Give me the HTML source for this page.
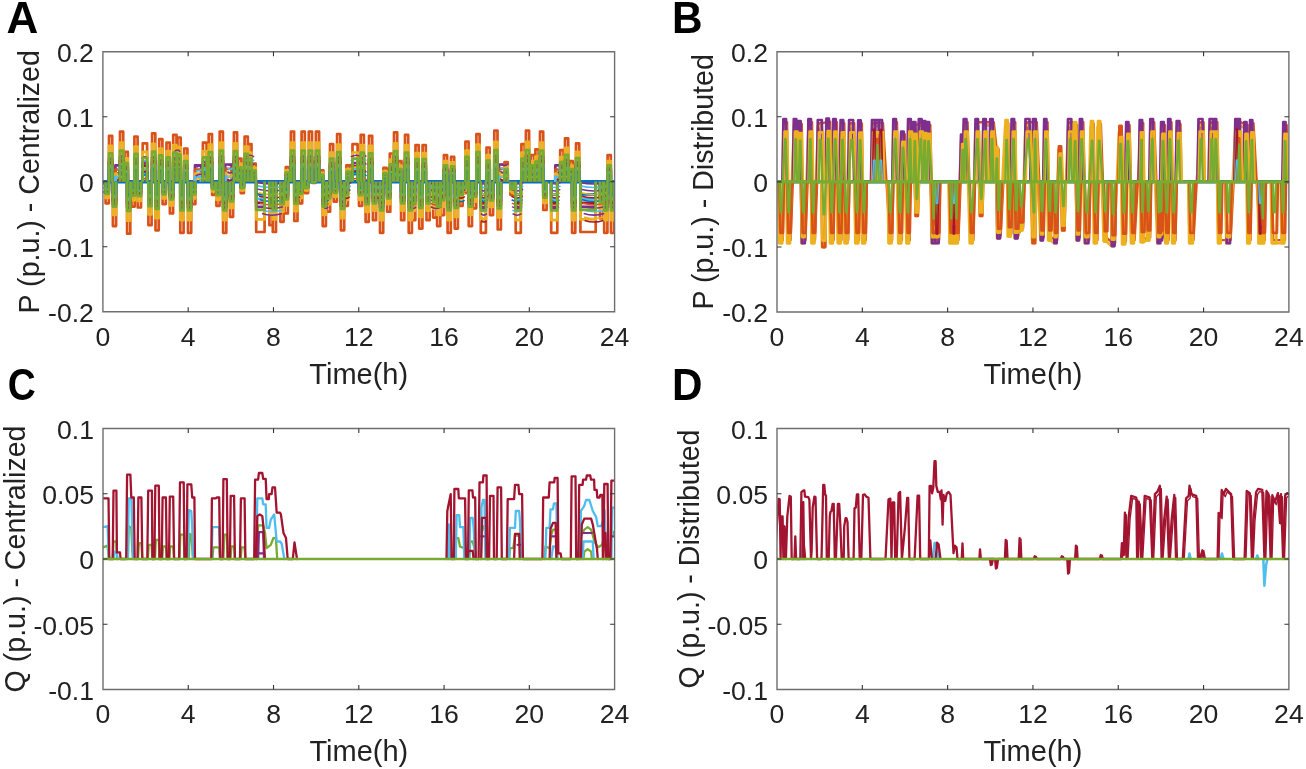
<!DOCTYPE html>
<html><head><meta charset="utf-8"><style>
html,body{margin:0;padding:0;background:#fff;width:1306px;height:769px;overflow:hidden}
svg{display:block;will-change:transform}
text{font-family:"Liberation Sans",sans-serif;fill:#222}
</style></head><body>
<svg width="1306" height="769" viewBox="0 0 1306 769">
<rect width="1306" height="769" fill="#fff"/>
<clipPath id="clipA"><rect x="102.9" y="51.7" width="511.70000000000005" height="260.1"/></clipPath>
<g clip-path="url(#clipA)" fill="none" stroke-linejoin="round" stroke-width="2.7">
<path d="M102.9 181.8H614.6" stroke="#0072BD" stroke-width="3.4"/>
<path d="M115.4 181.8V165.4H121.7V181.8M195.0 181.8V165.4H201.1V181.8M225.2 181.8V164.5H231.6V181.8M499.0 181.8V164.5H505.4V181.8M555.3 181.8V165.4H561.7V181.8" stroke="#7E2F8E"/>
<path d="M115.4 181.8V169.5H121.7V181.8M195.0 181.8V169.5H201.1V181.8M225.2 181.8V168.8H231.6V181.8M499.0 181.8V168.8H505.4V181.8M555.3 181.8V169.5H561.7V181.8" stroke="#D95319"/>
<path d="M115.4 181.8V173.6H121.7V181.8M195.0 181.8V173.6H201.1V181.8M225.2 181.8V173.1H231.6V181.8M499.0 181.8V173.1H505.4V181.8M555.3 181.8V173.6H561.7V181.8" stroke="#EDB120"/>
<path d="M115.4 181.8V176.8H121.7V181.8M195.0 181.8V176.8H201.1V181.8M225.2 181.8V176.6H231.6V181.8M499.0 181.8V176.6H505.4V181.8M555.3 181.8V176.8H561.7V181.8" stroke="#4DBEEE"/>
<path d="M105.6 181.8V203.3H108.8V181.8M109.0 181.8V135.8H112.2V181.8M112.9 181.8V226.1H116.1V181.8M120.0 181.8V131.6H123.2V181.8M124.6 181.8V151.9H127.8V181.8M127.1 181.8V233.7H130.3V181.8M131.5 181.8V206.6H134.7V181.8M134.4 181.8V136.6H137.6V181.8M137.7 181.8V207.5H141.0V181.8M142.7 181.8V143.4H147.1V181.8M148.4 181.8V225.2H151.6V181.8M152.1 181.8V133.3H155.3V181.8M155.5 181.8V230.3H158.7V181.8M159.2 181.8V139.2H162.4V181.8M162.6 181.8V204.1H165.8V181.8M166.5 181.8V142.6H169.7V181.8M169.9 181.8V213.4H173.1V181.8M173.2 181.8V134.9H176.5V181.8M177.5 181.8V137.5H180.7V181.8M180.3 181.8V232.8H183.6V181.8M184.2 181.8V148.5H187.4V181.8M188.0 181.8V232.8H191.2V181.8M192.2 181.8V204.1H195.4V181.8M202.9 181.8V142.6H206.6V181.8M208.7 181.8V134.1H212.0V181.8M212.1 181.8V194.8H215.3V181.8M216.4 181.8V205.8H219.6V181.8M219.7 181.8V131.6H222.9V181.8M223.1 181.8V232.8H226.3V181.8M229.9 181.8V216.8H233.1V181.8M233.9 181.8V132.4H237.1V181.8M238.2 181.8V158.6H241.4V181.8M240.7 181.8V193.1H243.9V181.8M244.6 181.8V136.6H247.8V181.8M248.3 181.8V144.2H251.5V181.8M252.5 181.8V163.7H255.7V181.8M256.2 181.8V232.0H264.6V181.8M269.4 181.8V225.2H272.6V181.8M272.8 181.8V232.0H276.0V181.8M280.4 181.8V221.8H283.6V181.8M284.6 181.8V213.4H287.9V181.8M285.8 181.8V167.1H289.0V181.8M290.9 181.8V131.6H294.1V181.8M294.3 181.8V221.0H297.5V181.8M299.0 181.8V203.3H302.2V181.8M301.6 181.8V131.6H304.8V181.8M304.9 181.8V193.1H308.1V181.8M308.8 181.8V131.6H312.0V181.8M312.2 181.8V183.0H315.4V181.8M315.9 181.8V131.6H319.1V181.8M320.2 181.8V170.4H323.4V181.8M322.7 181.8V226.1H325.9V181.8M326.9 181.8V211.7H330.1V181.8M330.0 181.8V144.2H333.2V181.8M333.7 181.8V201.6H336.9V181.8M337.1 181.8V134.1H340.3V181.8M340.9 181.8V230.3H344.2V181.8M344.7 181.8V205.8H347.9V181.8M346.4 181.8V165.4H349.6V181.8M352.5 181.8V144.2H357.6V181.8M359.0 181.8V205.8H362.2V181.8M360.7 181.8V134.9H363.9V181.8M365.6 181.8V221.8H368.8V181.8M369.0 181.8V135.8H372.2V181.8M372.9 181.8V220.2H376.1V181.8M380.0 181.8V232.8H383.2V181.8M383.4 181.8V167.9H386.6V181.8M387.1 181.8V211.7H390.3V181.8M389.8 181.8V153.5H393.0V181.8M394.0 181.8V132.4H397.2V181.8M398.2 181.8V161.2H401.5V181.8M401.1 181.8V220.2H404.3V181.8M405.0 181.8V134.9H408.2V181.8M408.7 181.8V232.8H411.9V181.8M412.1 181.8V220.2H415.3V181.8M415.5 181.8V145.1H418.7V181.8M419.2 181.8V228.6H422.4V181.8M422.6 181.8V145.1H425.8V181.8M426.5 181.8V220.2H429.7V181.8M433.2 181.8V217.6H436.5V181.8M437.1 181.8V226.1H440.3V181.8M440.9 181.8V215.1H444.1V181.8M443.9 181.8V155.2H447.1V181.8M447.6 181.8V232.8H450.8V181.8M451.0 181.8V156.9H454.2V181.8M454.7 181.8V228.6H457.9V181.8M459.4 181.8V205.8H462.7V181.8M462.8 181.8V193.1H466.0V181.8M465.4 181.8V141.7H468.6V181.8M468.7 181.8V226.1H472.0V181.8M473.0 181.8V208.3H476.2V181.8M476.4 181.8V134.1H479.6V181.8M480.8 181.8V232.8H485.9V181.8M486.5 181.8V147.6H489.7V181.8M489.9 181.8V215.1H493.1V181.8M494.3 181.8V130.7H497.5V181.8M497.7 181.8V229.5H500.9V181.8M504.5 181.8V162.0H507.7V181.8M510.4 181.8V194.8H513.6V181.8M515.7 181.8V232.8H520.8V181.8M521.4 181.8V144.2H524.6V181.8M525.9 181.8V130.7H529.1V181.8M530.7 181.8V155.2H533.9V181.8M535.4 181.8V149.3H538.6V181.8M540.0 181.8V131.6H543.2V181.8M543.3 181.8V210.0H546.6V181.8M551.2 181.8V232.8H557.3V181.8M560.2 181.8V150.2H563.5V181.8M565.0 181.8V138.3H568.2V181.8M569.5 181.8V161.2H572.8V181.8M572.1 181.8V232.8H575.3V181.8M576.0 181.8V143.4H579.2V181.8M580.4 181.8V232.0H595.7V181.8M600.0 181.8V218.5H603.2V181.8M604.2 181.8V232.8H607.4V181.8M607.6 181.8V155.2H610.8V181.8M611.0 181.8V232.8H614.2V181.8" stroke="#D95319"/>
<path d="M105.6 181.8V197.9H108.8V181.8M109.0 181.8V145.9H112.2V181.8M112.9 181.8V215.0H116.1V181.8M120.0 181.8V142.6H123.2V181.8M124.6 181.8V158.4H127.8V181.8M127.1 181.8V220.7H130.3V181.8M131.5 181.8V200.4H134.7V181.8M134.4 181.8V146.6H137.6V181.8M137.7 181.8V201.0H141.0V181.8M142.7 181.8V151.8H147.1V181.8M148.4 181.8V214.4H151.6V181.8M152.1 181.8V143.9H155.3V181.8M155.5 181.8V218.2H158.7V181.8M159.2 181.8V148.5H162.4V181.8M162.6 181.8V198.5H165.8V181.8M166.5 181.8V151.2H169.7V181.8M169.9 181.8V205.5H173.1V181.8M173.2 181.8V145.2H176.5V181.8M177.5 181.8V147.2H180.7V181.8M180.3 181.8V220.1H183.6V181.8M184.2 181.8V155.8H187.4V181.8M188.0 181.8V220.1H191.2V181.8M192.2 181.8V198.5H195.4V181.8M202.9 181.8V151.2H206.6V181.8M208.7 181.8V144.6H212.0V181.8M212.1 181.8V191.5H215.3V181.8M216.4 181.8V199.8H219.6V181.8M219.7 181.8V142.6H222.9V181.8M223.1 181.8V220.1H226.3V181.8M229.9 181.8V208.0H233.1V181.8M233.9 181.8V143.3H237.1V181.8M238.2 181.8V163.7H241.4V181.8M240.7 181.8V190.3H243.9V181.8M244.6 181.8V146.6H247.8V181.8M248.3 181.8V152.5H251.5V181.8M252.5 181.8V167.7H255.7V181.8M256.2 181.8V219.4H264.6V181.8M269.4 181.8V214.4H272.6V181.8M272.8 181.8V219.4H276.0V181.8M280.4 181.8V211.8H283.6V181.8M284.6 181.8V205.5H287.9V181.8M285.8 181.8V170.3H289.0V181.8M290.9 181.8V142.6H294.1V181.8M294.3 181.8V211.2H297.5V181.8M299.0 181.8V197.9H302.2V181.8M301.6 181.8V142.6H304.8V181.8M304.9 181.8V190.3H308.1V181.8M308.8 181.8V142.6H312.0V181.8M312.2 181.8V182.7H315.4V181.8M315.9 181.8V142.6H319.1V181.8M320.2 181.8V172.9H323.4V181.8M322.7 181.8V215.0H325.9V181.8M326.9 181.8V204.2H330.1V181.8M330.0 181.8V152.5H333.2V181.8M333.7 181.8V196.6H336.9V181.8M337.1 181.8V144.6H340.3V181.8M340.9 181.8V218.2H344.2V181.8M344.7 181.8V199.8H347.9V181.8M346.4 181.8V169.0H349.6V181.8M352.5 181.8V152.5H357.6V181.8M359.0 181.8V199.8H362.2V181.8M360.7 181.8V145.2H363.9V181.8M365.6 181.8V211.8H368.8V181.8M369.0 181.8V145.9H372.2V181.8M372.9 181.8V210.6H376.1V181.8M380.0 181.8V220.1H383.2V181.8M383.4 181.8V171.0H386.6V181.8M387.1 181.8V204.2H390.3V181.8M389.8 181.8V159.7H393.0V181.8M394.0 181.8V143.3H397.2V181.8M398.2 181.8V165.7H401.5V181.8M401.1 181.8V210.6H404.3V181.8M405.0 181.8V145.2H408.2V181.8M408.7 181.8V220.1H411.9V181.8M412.1 181.8V210.6H415.3V181.8M415.5 181.8V153.2H418.7V181.8M419.2 181.8V216.9H422.4V181.8M422.6 181.8V153.2H425.8V181.8M426.5 181.8V210.6H429.7V181.8M433.2 181.8V208.7H436.5V181.8M437.1 181.8V215.0H440.3V181.8M440.9 181.8V206.8H444.1V181.8M443.9 181.8V161.1H447.1V181.8M447.6 181.8V220.1H450.8V181.8M451.0 181.8V162.4H454.2V181.8M454.7 181.8V216.9H457.9V181.8M459.4 181.8V199.8H462.7V181.8M462.8 181.8V190.3H466.0V181.8M465.4 181.8V150.5H468.6V181.8M468.7 181.8V215.0H472.0V181.8M473.0 181.8V201.7H476.2V181.8M476.4 181.8V144.6H479.6V181.8M480.8 181.8V220.1H485.9V181.8M486.5 181.8V155.1H489.7V181.8M489.9 181.8V206.8H493.1V181.8M494.3 181.8V141.9H497.5V181.8M497.7 181.8V217.5H500.9V181.8M504.5 181.8V166.3H507.7V181.8M510.4 181.8V191.5H513.6V181.8M515.7 181.8V220.1H520.8V181.8M521.4 181.8V152.5H524.6V181.8M525.9 181.8V141.9H529.1V181.8M530.7 181.8V161.1H533.9V181.8M535.4 181.8V156.5H538.6V181.8M540.0 181.8V142.6H543.2V181.8M543.3 181.8V202.9H546.6V181.8M551.2 181.8V220.1H557.3V181.8M560.2 181.8V157.1H563.5V181.8M565.0 181.8V147.9H568.2V181.8M569.5 181.8V165.7H572.8V181.8M572.1 181.8V220.1H575.3V181.8M576.0 181.8V151.8H579.2V181.8M580.4 181.8V219.4H595.7V181.8M600.0 181.8V209.3H603.2V181.8M604.2 181.8V220.1H607.4V181.8M607.6 181.8V161.1H610.8V181.8M611.0 181.8V220.1H614.2V181.8" stroke="#EDB120"/>
<path d="M105.6 181.8V192.5H108.8V181.8M109.0 181.8V158.8H112.2V181.8M112.9 181.8V203.9H116.1V181.8M120.0 181.8V156.7H123.2V181.8M124.6 181.8V166.8H127.8V181.8M127.1 181.8V207.7H130.3V181.8M131.5 181.8V194.2H134.7V181.8M134.4 181.8V159.2H137.6V181.8M137.7 181.8V194.6H141.0V181.8M142.7 181.8V162.6H147.1V181.8M148.4 181.8V203.5H151.6V181.8M152.1 181.8V157.5H155.3V181.8M155.5 181.8V206.0H158.7V181.8M159.2 181.8V160.5H162.4V181.8M162.6 181.8V192.9H165.8V181.8M166.5 181.8V162.2H169.7V181.8M169.9 181.8V197.6H173.1V181.8M173.2 181.8V158.3H176.5V181.8M177.5 181.8V159.6H180.7V181.8M180.3 181.8V207.3H183.6V181.8M184.2 181.8V165.1H187.4V181.8M188.0 181.8V207.3H191.2V181.8M192.2 181.8V192.9H195.4V181.8M202.9 181.8V162.2H206.6V181.8M208.7 181.8V157.9H212.0V181.8M212.1 181.8V188.3H215.3V181.8M216.4 181.8V193.8H219.6V181.8M219.7 181.8V156.7H222.9V181.8M223.1 181.8V207.3H226.3V181.8M229.9 181.8V199.3H233.1V181.8M233.9 181.8V157.1H237.1V181.8M238.2 181.8V170.2H241.4V181.8M240.7 181.8V187.4H243.9V181.8M244.6 181.8V159.2H247.8V181.8M248.3 181.8V163.0H251.5V181.8M252.5 181.8V172.7H255.7V181.8M256.2 181.8V206.9H264.6V181.8M269.4 181.8V203.5H272.6V181.8M272.8 181.8V206.9H276.0V181.8M280.4 181.8V201.8H283.6V181.8M284.6 181.8V197.6H287.9V181.8M285.8 181.8V174.4H289.0V181.8M290.9 181.8V156.7H294.1V181.8M294.3 181.8V201.4H297.5V181.8M299.0 181.8V192.5H302.2V181.8M301.6 181.8V156.7H304.8V181.8M304.9 181.8V187.4H308.1V181.8M308.8 181.8V156.7H312.0V181.8M312.2 181.8V182.4H315.4V181.8M315.9 181.8V156.7H319.1V181.8M320.2 181.8V176.1H323.4V181.8M322.7 181.8V203.9H325.9V181.8M326.9 181.8V196.7H330.1V181.8M330.0 181.8V163.0H333.2V181.8M333.7 181.8V191.7H336.9V181.8M337.1 181.8V157.9H340.3V181.8M340.9 181.8V206.0H344.2V181.8M344.7 181.8V193.8H347.9V181.8M346.4 181.8V173.6H349.6V181.8M352.5 181.8V163.0H357.6V181.8M359.0 181.8V193.8H362.2V181.8M360.7 181.8V158.3H363.9V181.8M365.6 181.8V201.8H368.8V181.8M369.0 181.8V158.8H372.2V181.8M372.9 181.8V201.0H376.1V181.8M380.0 181.8V207.3H383.2V181.8M383.4 181.8V174.8H386.6V181.8M387.1 181.8V196.7H390.3V181.8M389.8 181.8V167.6H393.0V181.8M394.0 181.8V157.1H397.2V181.8M398.2 181.8V171.5H401.5V181.8M401.1 181.8V201.0H404.3V181.8M405.0 181.8V158.3H408.2V181.8M408.7 181.8V207.3H411.9V181.8M412.1 181.8V201.0H415.3V181.8M415.5 181.8V163.4H418.7V181.8M419.2 181.8V205.2H422.4V181.8M422.6 181.8V163.4H425.8V181.8M426.5 181.8V201.0H429.7V181.8M433.2 181.8V199.7H436.5V181.8M437.1 181.8V203.9H440.3V181.8M440.9 181.8V198.4H444.1V181.8M443.9 181.8V168.5H447.1V181.8M447.6 181.8V207.3H450.8V181.8M451.0 181.8V169.3H454.2V181.8M454.7 181.8V205.2H457.9V181.8M459.4 181.8V193.8H462.7V181.8M462.8 181.8V187.4H466.0V181.8M465.4 181.8V161.7H468.6V181.8M468.7 181.8V203.9H472.0V181.8M473.0 181.8V195.0H476.2V181.8M476.4 181.8V157.9H479.6V181.8M480.8 181.8V207.3H485.9V181.8M486.5 181.8V164.7H489.7V181.8M489.9 181.8V198.4H493.1V181.8M494.3 181.8V156.2H497.5V181.8M497.7 181.8V205.6H500.9V181.8M504.5 181.8V171.9H507.7V181.8M510.4 181.8V188.3H513.6V181.8M515.7 181.8V207.3H520.8V181.8M521.4 181.8V163.0H524.6V181.8M525.9 181.8V156.2H529.1V181.8M530.7 181.8V168.5H533.9V181.8M535.4 181.8V165.5H538.6V181.8M540.0 181.8V156.7H543.2V181.8M543.3 181.8V195.9H546.6V181.8M551.2 181.8V207.3H557.3V181.8M560.2 181.8V166.0H563.5V181.8M565.0 181.8V160.0H568.2V181.8M569.5 181.8V171.5H572.8V181.8M572.1 181.8V207.3H575.3V181.8M576.0 181.8V162.6H579.2V181.8M580.4 181.8V206.9H595.7V181.8M600.0 181.8V200.1H603.2V181.8M604.2 181.8V207.3H607.4V181.8M607.6 181.8V168.5H610.8V181.8M611.0 181.8V207.3H614.2V181.8" stroke="#7E2F8E"/>
<path d="M105.6 181.8V190.8H108.8V181.8M109.0 181.8V162.4H112.2V181.8M112.9 181.8V200.4H116.1V181.8M120.0 181.8V160.7H123.2V181.8M124.6 181.8V169.2H127.8V181.8M127.1 181.8V203.6H130.3V181.8M131.5 181.8V192.2H134.7V181.8M134.4 181.8V162.8H137.6V181.8M137.7 181.8V192.6H141.0V181.8M142.7 181.8V165.6H147.1V181.8M148.4 181.8V200.0H151.6V181.8M152.1 181.8V161.4H155.3V181.8M155.5 181.8V202.1H158.7V181.8M159.2 181.8V163.9H162.4V181.8M162.6 181.8V191.1H165.8V181.8M166.5 181.8V165.3H169.7V181.8M169.9 181.8V195.0H173.1V181.8M173.2 181.8V162.1H176.5V181.8M177.5 181.8V163.2H180.7V181.8M180.3 181.8V203.2H183.6V181.8M184.2 181.8V167.8H187.4V181.8M188.0 181.8V203.2H191.2V181.8M192.2 181.8V191.1H195.4V181.8M202.9 181.8V165.3H206.6V181.8M208.7 181.8V161.7H212.0V181.8M212.1 181.8V187.2H215.3V181.8M216.4 181.8V191.8H219.6V181.8M219.7 181.8V160.7H222.9V181.8M223.1 181.8V203.2H226.3V181.8M229.9 181.8V196.5H233.1V181.8M233.9 181.8V161.0H237.1V181.8M238.2 181.8V172.0H241.4V181.8M240.7 181.8V186.5H243.9V181.8M244.6 181.8V162.8H247.8V181.8M248.3 181.8V166.0H251.5V181.8M252.5 181.8V174.2H255.7V181.8M256.2 181.8V202.9H264.6V181.8M269.4 181.8V200.0H272.6V181.8M272.8 181.8V202.9H276.0V181.8M280.4 181.8V198.6H283.6V181.8M284.6 181.8V195.0H287.9V181.8M285.8 181.8V175.6H289.0V181.8M290.9 181.8V160.7H294.1V181.8M294.3 181.8V198.2H297.5V181.8M299.0 181.8V190.8H302.2V181.8M301.6 181.8V160.7H304.8V181.8M304.9 181.8V186.5H308.1V181.8M308.8 181.8V160.7H312.0V181.8M312.2 181.8V182.3H315.4V181.8M315.9 181.8V160.7H319.1V181.8M320.2 181.8V177.0H323.4V181.8M322.7 181.8V200.4H325.9V181.8M326.9 181.8V194.3H330.1V181.8M330.0 181.8V166.0H333.2V181.8M333.7 181.8V190.1H336.9V181.8M337.1 181.8V161.7H340.3V181.8M340.9 181.8V202.1H344.2V181.8M344.7 181.8V191.8H347.9V181.8M346.4 181.8V174.9H349.6V181.8M352.5 181.8V166.0H357.6V181.8M359.0 181.8V191.8H362.2V181.8M360.7 181.8V162.1H363.9V181.8M365.6 181.8V198.6H368.8V181.8M369.0 181.8V162.4H372.2V181.8M372.9 181.8V197.9H376.1V181.8M380.0 181.8V203.2H383.2V181.8M383.4 181.8V175.9H386.6V181.8M387.1 181.8V194.3H390.3V181.8M389.8 181.8V169.9H393.0V181.8M394.0 181.8V161.0H397.2V181.8M398.2 181.8V173.1H401.5V181.8M401.1 181.8V197.9H404.3V181.8M405.0 181.8V162.1H408.2V181.8M408.7 181.8V203.2H411.9V181.8M412.1 181.8V197.9H415.3V181.8M415.5 181.8V166.4H418.7V181.8M419.2 181.8V201.4H422.4V181.8M422.6 181.8V166.4H425.8V181.8M426.5 181.8V197.9H429.7V181.8M433.2 181.8V196.8H436.5V181.8M437.1 181.8V200.4H440.3V181.8M440.9 181.8V195.8H444.1V181.8M443.9 181.8V170.6H447.1V181.8M447.6 181.8V203.2H450.8V181.8M451.0 181.8V171.3H454.2V181.8M454.7 181.8V201.4H457.9V181.8M459.4 181.8V191.8H462.7V181.8M462.8 181.8V186.5H466.0V181.8M465.4 181.8V164.9H468.6V181.8M468.7 181.8V200.4H472.0V181.8M473.0 181.8V192.9H476.2V181.8M476.4 181.8V161.7H479.6V181.8M480.8 181.8V203.2H485.9V181.8M486.5 181.8V167.4H489.7V181.8M489.9 181.8V195.8H493.1V181.8M494.3 181.8V160.3H497.5V181.8M497.7 181.8V201.8H500.9V181.8M504.5 181.8V173.5H507.7V181.8M510.4 181.8V187.2H513.6V181.8M515.7 181.8V203.2H520.8V181.8M521.4 181.8V166.0H524.6V181.8M525.9 181.8V160.3H529.1V181.8M530.7 181.8V170.6H533.9V181.8M535.4 181.8V168.1H538.6V181.8M540.0 181.8V160.7H543.2V181.8M543.3 181.8V193.6H546.6V181.8M551.2 181.8V203.2H557.3V181.8M560.2 181.8V168.5H563.5V181.8M565.0 181.8V163.5H568.2V181.8M569.5 181.8V173.1H572.8V181.8M572.1 181.8V203.2H575.3V181.8M576.0 181.8V165.6H579.2V181.8M580.4 181.8V202.9H595.7V181.8M600.0 181.8V197.2H603.2V181.8M604.2 181.8V203.2H607.4V181.8M607.6 181.8V170.6H610.8V181.8M611.0 181.8V203.2H614.2V181.8" stroke="#A2142F"/>
<path d="M105.6 181.8V189.1H108.8V181.8M109.0 181.8V166.1H112.2V181.8M112.9 181.8V196.8H116.1V181.8M120.0 181.8V164.7H123.2V181.8M124.6 181.8V171.6H127.8V181.8M127.1 181.8V199.4H130.3V181.8M131.5 181.8V190.2H134.7V181.8M134.4 181.8V166.4H137.6V181.8M137.7 181.8V190.5H141.0V181.8M142.7 181.8V168.7H147.1V181.8M148.4 181.8V196.5H151.6V181.8M152.1 181.8V165.3H155.3V181.8M155.5 181.8V198.3H158.7V181.8M159.2 181.8V167.3H162.4V181.8M162.6 181.8V189.3H165.8V181.8M166.5 181.8V168.4H169.7V181.8M169.9 181.8V192.5H173.1V181.8M173.2 181.8V165.8H176.5V181.8M177.5 181.8V166.7H180.7V181.8M180.3 181.8V199.1H183.6V181.8M184.2 181.8V170.4H187.4V181.8M188.0 181.8V199.1H191.2V181.8M192.2 181.8V189.3H195.4V181.8M202.9 181.8V168.4H206.6V181.8M208.7 181.8V165.5H212.0V181.8M212.1 181.8V186.2H215.3V181.8M216.4 181.8V189.9H219.6V181.8M219.7 181.8V164.7H222.9V181.8M223.1 181.8V199.1H226.3V181.8M229.9 181.8V193.7H233.1V181.8M233.9 181.8V165.0H237.1V181.8M238.2 181.8V173.9H241.4V181.8M240.7 181.8V185.6H243.9V181.8M244.6 181.8V166.4H247.8V181.8M248.3 181.8V169.0H251.5V181.8M252.5 181.8V175.6H255.7V181.8M256.2 181.8V198.8H264.6V181.8M269.4 181.8V196.5H272.6V181.8M272.8 181.8V198.8H276.0V181.8M280.4 181.8V195.4H283.6V181.8M284.6 181.8V192.5H287.9V181.8M285.8 181.8V176.8H289.0V181.8M290.9 181.8V164.7H294.1V181.8M294.3 181.8V195.1H297.5V181.8M299.0 181.8V189.1H302.2V181.8M301.6 181.8V164.7H304.8V181.8M304.9 181.8V185.6H308.1V181.8M308.8 181.8V164.7H312.0V181.8M312.2 181.8V182.2H315.4V181.8M315.9 181.8V164.7H319.1V181.8M320.2 181.8V177.9H323.4V181.8M322.7 181.8V196.8H325.9V181.8M326.9 181.8V191.9H330.1V181.8M330.0 181.8V169.0H333.2V181.8M333.7 181.8V188.5H336.9V181.8M337.1 181.8V165.5H340.3V181.8M340.9 181.8V198.3H344.2V181.8M344.7 181.8V189.9H347.9V181.8M346.4 181.8V176.2H349.6V181.8M352.5 181.8V169.0H357.6V181.8M359.0 181.8V189.9H362.2V181.8M360.7 181.8V165.8H363.9V181.8M365.6 181.8V195.4H368.8V181.8M369.0 181.8V166.1H372.2V181.8M372.9 181.8V194.8H376.1V181.8M380.0 181.8V199.1H383.2V181.8M383.4 181.8V177.0H386.6V181.8M387.1 181.8V191.9H390.3V181.8M389.8 181.8V172.2H393.0V181.8M394.0 181.8V165.0H397.2V181.8M398.2 181.8V174.7H401.5V181.8M401.1 181.8V194.8H404.3V181.8M405.0 181.8V165.8H408.2V181.8M408.7 181.8V199.1H411.9V181.8M412.1 181.8V194.8H415.3V181.8M415.5 181.8V169.3H418.7V181.8M419.2 181.8V197.7H422.4V181.8M422.6 181.8V169.3H425.8V181.8M426.5 181.8V194.8H429.7V181.8M433.2 181.8V193.9H436.5V181.8M437.1 181.8V196.8H440.3V181.8M440.9 181.8V193.1H444.1V181.8M443.9 181.8V172.7H447.1V181.8M447.6 181.8V199.1H450.8V181.8M451.0 181.8V173.3H454.2V181.8M454.7 181.8V197.7H457.9V181.8M459.4 181.8V189.9H462.7V181.8M462.8 181.8V185.6H466.0V181.8M465.4 181.8V168.1H468.6V181.8M468.7 181.8V196.8H472.0V181.8M473.0 181.8V190.8H476.2V181.8M476.4 181.8V165.5H479.6V181.8M480.8 181.8V199.1H485.9V181.8M486.5 181.8V170.1H489.7V181.8M489.9 181.8V193.1H493.1V181.8M494.3 181.8V164.4H497.5V181.8M497.7 181.8V198.0H500.9V181.8M504.5 181.8V175.0H507.7V181.8M510.4 181.8V186.2H513.6V181.8M515.7 181.8V199.1H520.8V181.8M521.4 181.8V169.0H524.6V181.8M525.9 181.8V164.4H529.1V181.8M530.7 181.8V172.7H533.9V181.8M535.4 181.8V170.7H538.6V181.8M540.0 181.8V164.7H543.2V181.8M543.3 181.8V191.4H546.6V181.8M551.2 181.8V199.1H557.3V181.8M560.2 181.8V171.0H563.5V181.8M565.0 181.8V167.0H568.2V181.8M569.5 181.8V174.7H572.8V181.8M572.1 181.8V199.1H575.3V181.8M576.0 181.8V168.7H579.2V181.8M580.4 181.8V198.8H595.7V181.8M600.0 181.8V194.2H603.2V181.8M604.2 181.8V199.1H607.4V181.8M607.6 181.8V172.7H610.8V181.8M611.0 181.8V199.1H614.2V181.8" stroke="#4DBEEE"/>
<path d="M105.6 181.8V187.1H108.8V181.8M109.0 181.8V170.3H112.2V181.8M112.9 181.8V192.8H116.1V181.8M120.0 181.8V169.2H123.2V181.8M124.6 181.8V174.3H127.8V181.8M127.1 181.8V194.7H130.3V181.8M131.5 181.8V188.0H134.7V181.8M134.4 181.8V170.5H137.6V181.8M137.7 181.8V188.2H141.0V181.8M142.7 181.8V172.2H147.1V181.8M148.4 181.8V192.6H151.6V181.8M152.1 181.8V169.6H155.3V181.8M155.5 181.8V193.9H158.7V181.8M159.2 181.8V171.1H162.4V181.8M162.6 181.8V187.3H165.8V181.8M166.5 181.8V172.0H169.7V181.8M169.9 181.8V189.7H173.1V181.8M173.2 181.8V170.0H176.5V181.8M177.5 181.8V170.7H180.7V181.8M180.3 181.8V194.5H183.6V181.8M184.2 181.8V173.4H187.4V181.8M188.0 181.8V194.5H191.2V181.8M192.2 181.8V187.3H195.4V181.8M202.9 181.8V172.0H206.6V181.8M208.7 181.8V169.8H212.0V181.8M212.1 181.8V185.0H215.3V181.8M216.4 181.8V187.8H219.6V181.8M219.7 181.8V169.2H222.9V181.8M223.1 181.8V194.5H226.3V181.8M229.9 181.8V190.5H233.1V181.8M233.9 181.8V169.4H237.1V181.8M238.2 181.8V176.0H241.4V181.8M240.7 181.8V184.6H243.9V181.8M244.6 181.8V170.5H247.8V181.8M248.3 181.8V172.4H251.5V181.8M252.5 181.8V177.2H255.7V181.8M256.2 181.8V194.3H264.6V181.8M269.4 181.8V192.6H272.6V181.8M272.8 181.8V194.3H276.0V181.8M280.4 181.8V191.8H283.6V181.8M284.6 181.8V189.7H287.9V181.8M285.8 181.8V178.1H289.0V181.8M290.9 181.8V169.2H294.1V181.8M294.3 181.8V191.6H297.5V181.8M299.0 181.8V187.1H302.2V181.8M301.6 181.8V169.2H304.8V181.8M304.9 181.8V184.6H308.1V181.8M308.8 181.8V169.2H312.0V181.8M312.2 181.8V182.1H315.4V181.8M315.9 181.8V169.2H319.1V181.8M320.2 181.8V178.9H323.4V181.8M322.7 181.8V192.8H325.9V181.8M326.9 181.8V189.2H330.1V181.8M330.0 181.8V172.4H333.2V181.8M333.7 181.8V186.7H336.9V181.8M337.1 181.8V169.8H340.3V181.8M340.9 181.8V193.9H344.2V181.8M344.7 181.8V187.8H347.9V181.8M346.4 181.8V177.7H349.6V181.8M352.5 181.8V172.4H357.6V181.8M359.0 181.8V187.8H362.2V181.8M360.7 181.8V170.0H363.9V181.8M365.6 181.8V191.8H368.8V181.8M369.0 181.8V170.3H372.2V181.8M372.9 181.8V191.4H376.1V181.8M380.0 181.8V194.5H383.2V181.8M383.4 181.8V178.3H386.6V181.8M387.1 181.8V189.2H390.3V181.8M389.8 181.8V174.7H393.0V181.8M394.0 181.8V169.4H397.2V181.8M398.2 181.8V176.6H401.5V181.8M401.1 181.8V191.4H404.3V181.8M405.0 181.8V170.0H408.2V181.8M408.7 181.8V194.5H411.9V181.8M412.1 181.8V191.4H415.3V181.8M415.5 181.8V172.6H418.7V181.8M419.2 181.8V193.5H422.4V181.8M422.6 181.8V172.6H425.8V181.8M426.5 181.8V191.4H429.7V181.8M433.2 181.8V190.7H436.5V181.8M437.1 181.8V192.8H440.3V181.8M440.9 181.8V190.1H444.1V181.8M443.9 181.8V175.1H447.1V181.8M447.6 181.8V194.5H450.8V181.8M451.0 181.8V175.5H454.2V181.8M454.7 181.8V193.5H457.9V181.8M459.4 181.8V187.8H462.7V181.8M462.8 181.8V184.6H466.0V181.8M465.4 181.8V171.7H468.6V181.8M468.7 181.8V192.8H472.0V181.8M473.0 181.8V188.4H476.2V181.8M476.4 181.8V169.8H479.6V181.8M480.8 181.8V194.5H485.9V181.8M486.5 181.8V173.2H489.7V181.8M489.9 181.8V190.1H493.1V181.8M494.3 181.8V169.0H497.5V181.8M497.7 181.8V193.7H500.9V181.8M504.5 181.8V176.8H507.7V181.8M510.4 181.8V185.0H513.6V181.8M515.7 181.8V194.5H520.8V181.8M521.4 181.8V172.4H524.6V181.8M525.9 181.8V169.0H529.1V181.8M530.7 181.8V175.1H533.9V181.8M535.4 181.8V173.6H538.6V181.8M540.0 181.8V169.2H543.2V181.8M543.3 181.8V188.8H546.6V181.8M551.2 181.8V194.5H557.3V181.8M560.2 181.8V173.9H563.5V181.8M565.0 181.8V170.9H568.2V181.8M569.5 181.8V176.6H572.8V181.8M572.1 181.8V194.5H575.3V181.8M576.0 181.8V172.2H579.2V181.8M580.4 181.8V194.3H595.7V181.8M600.0 181.8V190.9H603.2V181.8M604.2 181.8V194.5H607.4V181.8M607.6 181.8V175.1H610.8V181.8M611.0 181.8V194.5H614.2V181.8" stroke="#0072BD"/>
<path d="M118.0 164.7Q121.2 168.0 124.4 164.7M117.7 171.8Q121.2 175.1 124.6 171.8M141.7 158.5Q144.8 155.2 148.0 158.5M141.5 165.7Q144.8 162.4 148.2 165.7M174.6 151.7Q177.4 148.4 180.2 151.7M174.5 158.9Q177.4 155.6 180.3 158.9M174.1 176.9Q177.4 173.6 180.7 176.9M196.3 167.2Q202.3 163.9 208.3 167.2M195.7 175.7Q202.3 172.4 209.0 175.7M227.7 163.9Q230.1 167.2 232.5 163.9M227.5 171.4Q230.1 174.7 232.8 171.4M103.1 182.8Q104.7 186.1 106.3 182.8M103.5 191.2Q104.7 194.5 105.9 191.2M233.6 168.7Q236.4 165.4 239.2 168.7M233.3 176.3Q236.4 173.0 239.5 176.3M245.7 156.9Q249.9 153.6 254.1 156.9M245.4 164.6Q249.9 161.3 254.4 164.6M256.9 182.4Q271.9 185.7 286.8 182.4M258.0 189.3Q271.9 192.6 285.7 189.3M260.8 206.7Q271.9 210.0 283.0 206.7M261.9 213.6Q271.9 216.9 281.9 213.6M295.6 182.5Q298.1 185.8 300.5 182.5M296.0 189.6Q298.1 192.9 300.2 189.6M322.7 182.4Q326.0 185.7 329.3 182.4M323.0 189.4Q326.0 192.7 329.0 189.4M323.7 206.8Q326.0 210.1 328.2 206.8M341.4 182.5Q346.3 185.8 351.2 182.5M342.1 189.6Q346.3 192.9 350.4 189.6M350.8 156.9Q356.3 153.6 361.9 156.9M350.4 164.6Q356.3 161.3 362.2 164.6M363.3 156.9Q364.7 153.6 366.1 156.9M363.2 164.6Q364.7 161.3 366.2 164.6M373.4 182.5Q379.1 185.8 384.8 182.5M374.2 189.6Q379.1 192.9 383.9 189.6M392.4 172.2Q396.0 168.9 399.5 172.2M391.9 180.1Q396.0 176.8 400.0 180.1M410.4 182.4Q413.7 185.7 417.0 182.4M410.7 189.4Q413.7 192.7 416.7 189.4M411.5 206.8Q413.7 210.1 416.0 206.8M428.3 182.4Q436.1 185.7 444.0 182.4M429.0 189.4Q436.1 192.7 443.2 189.4M430.8 206.8Q436.1 210.1 441.4 206.8M456.1 182.4Q461.1 185.7 466.0 182.4M456.7 189.5Q461.1 192.8 465.4 189.5M479.7 182.4Q483.9 185.7 488.0 182.4M480.0 189.3Q483.9 192.6 487.8 189.3M480.6 206.6Q483.9 209.9 487.2 206.6M480.9 213.5Q483.9 216.8 486.9 213.5M500.8 163.9Q504.4 167.2 507.9 163.9M500.5 171.4Q504.4 174.7 508.2 171.4M510.4 182.4Q517.0 185.7 523.7 182.4M510.9 189.3Q517.0 192.6 523.2 189.3M512.1 206.7Q517.0 210.0 522.0 206.7M512.6 213.6Q517.0 216.9 521.5 213.6M525.2 164.7Q532.3 168.0 539.4 164.7M524.6 171.8Q532.3 175.1 540.0 171.8M549.3 182.4Q555.1 185.7 560.9 182.4M549.8 189.4Q555.1 192.7 560.3 189.4M551.2 206.8Q555.1 210.1 559.0 206.8M557.9 164.7Q564.0 168.0 570.0 164.7M557.4 171.8Q564.0 175.1 570.5 171.8M579.8 182.4Q594.0 185.7 608.1 182.4M580.7 189.3Q594.0 192.6 607.3 189.3M582.8 206.6Q594.0 209.9 605.1 206.6M583.7 213.5Q594.0 216.8 604.2 213.5" stroke="#7E2F8E" stroke-width="1.6"/>
<path d="M117.8 168.3Q121.2 171.6 124.5 168.3M141.6 162.1Q144.8 158.8 148.1 162.1M174.5 155.3Q177.4 152.0 180.2 155.3M196.0 171.5Q202.3 168.2 208.7 171.5M227.6 167.7Q230.1 171.0 232.6 167.7M103.3 187.0Q104.7 190.3 106.1 187.0M233.4 172.5Q236.4 169.2 239.4 172.5M245.6 160.8Q249.9 157.5 254.2 160.8M257.5 185.9Q271.9 189.2 286.3 185.9M261.3 210.1Q271.9 213.4 282.4 210.1M295.8 186.0Q298.1 189.3 300.3 186.0M322.8 185.9Q326.0 189.2 329.1 185.9M341.7 186.0Q346.3 189.3 350.8 186.0M350.6 160.8Q356.3 157.5 362.0 160.8M363.2 160.8Q364.7 157.5 366.1 160.8M373.8 186.0Q379.1 189.3 384.3 186.0M392.2 176.1Q396.0 172.8 399.8 176.1M410.6 185.9Q413.7 189.2 416.9 185.9M428.6 185.9Q436.1 189.2 443.6 185.9M456.4 186.0Q461.1 189.3 465.7 186.0M479.8 185.9Q483.9 189.2 487.9 185.9M480.7 210.0Q483.9 213.3 487.0 210.0M500.7 167.7Q504.4 171.0 508.1 167.7M510.7 185.9Q517.0 189.2 523.4 185.9M512.4 210.1Q517.0 213.4 521.7 210.1M524.9 168.3Q532.3 171.6 539.7 168.3M549.6 185.9Q555.1 189.2 560.6 185.9M557.7 168.3Q564.0 171.6 570.2 168.3M580.3 185.9Q594.0 189.2 607.7 185.9M583.3 210.0Q594.0 213.3 604.7 210.0" stroke="#4DBEEE" stroke-width="1.6"/>
<path d="M117.6 175.4Q121.2 178.7 124.8 175.4M141.4 169.4Q144.8 166.1 148.3 169.4M174.4 162.5Q177.4 159.2 180.4 162.5M195.4 179.9Q202.3 176.6 209.3 179.9M227.4 175.1Q230.1 178.4 232.9 175.1M233.1 180.1Q236.4 176.8 239.7 180.1M245.3 168.5Q249.9 165.2 254.5 168.5M258.6 192.8Q271.9 196.1 285.2 192.8M296.2 193.1Q298.1 196.4 300.0 193.1M323.1 192.9Q326.0 196.2 328.8 192.9M342.5 193.1Q346.3 196.4 350.1 193.1M350.3 168.5Q356.3 165.2 362.4 168.5M363.2 168.5Q364.7 165.2 366.2 168.5M374.6 193.1Q379.1 196.4 383.5 193.1M410.9 192.9Q413.7 196.2 416.6 192.9M429.4 192.9Q436.1 196.2 442.9 192.9M457.1 193.0Q461.1 196.3 465.1 193.0M480.1 192.8Q483.9 196.1 487.7 192.8M481.0 216.9Q483.9 220.2 486.8 216.9M500.4 175.1Q504.4 178.4 508.4 175.1M511.1 192.8Q517.0 196.1 523.0 192.8M524.3 175.4Q532.3 178.7 540.3 175.4M550.1 192.9Q555.1 196.2 560.1 192.9M557.2 175.4Q564.0 178.7 570.8 175.4M581.1 192.8Q594.0 196.1 606.8 192.8M584.1 216.9Q594.0 220.2 603.8 216.9" stroke="#EDB120" stroke-width="1.6"/>
<path d="M117.4 178.9Q121.2 182.2 124.9 178.9M141.3 173.0Q144.8 169.7 148.4 173.0M174.3 166.1Q177.4 162.8 180.4 166.1M227.3 178.8Q230.1 182.1 233.0 178.8M245.2 172.4Q249.9 169.1 254.6 172.4M259.1 196.3Q271.9 199.6 284.6 196.3M296.4 196.7Q298.1 200.0 299.8 196.7M323.3 196.4Q326.0 199.7 328.7 196.4M342.8 196.7Q346.3 200.0 349.7 196.7M350.1 172.4Q356.3 169.1 362.5 172.4M363.1 172.4Q364.7 169.1 366.3 172.4M375.1 196.7Q379.1 200.0 383.1 196.7M411.0 196.4Q413.7 199.7 416.4 196.4M429.7 196.4Q436.1 199.7 442.5 196.4M457.4 196.5Q461.1 199.8 464.8 196.5M480.2 196.2Q483.9 199.5 487.5 196.2M481.1 220.4Q483.9 223.7 486.6 220.4M500.2 178.8Q504.4 182.1 508.5 178.8M511.4 196.3Q517.0 199.6 522.7 196.3M524.0 178.9Q532.3 182.2 540.6 178.9M550.4 196.4Q555.1 199.7 559.8 196.4M556.9 178.9Q564.0 182.2 571.0 178.9M581.5 196.2Q594.0 199.5 606.4 196.2M584.6 220.4Q594.0 223.7 603.4 220.4" stroke="#A2142F" stroke-width="1.6"/>
<path d="M141.2 176.6Q144.8 173.3 148.5 176.6M174.3 169.7Q177.4 166.4 180.5 169.7M245.1 176.2Q249.9 172.9 254.8 176.2M259.7 199.7Q271.9 203.0 284.1 199.7M323.4 199.9Q326.0 203.2 328.5 199.9M349.9 176.2Q356.3 172.9 362.7 176.2M363.1 176.2Q364.7 172.9 366.3 176.2M411.2 199.9Q413.7 203.2 416.3 199.9M430.1 199.9Q436.1 203.2 442.2 199.9M457.7 200.1Q461.1 203.4 464.5 200.1M480.4 199.7Q483.9 203.0 487.4 199.7M511.6 199.7Q517.0 203.0 522.5 199.7M550.6 199.9Q555.1 203.2 559.5 199.9M582.0 199.7Q594.0 203.0 606.0 199.7" stroke="#0072BD" stroke-width="1.6"/>
<path d="M141.1 180.2Q144.8 176.9 148.6 180.2M174.2 173.3Q177.4 170.0 180.6 173.3M244.9 180.1Q249.9 176.8 254.9 180.1M260.2 203.2Q271.9 206.5 283.5 203.2M323.6 203.3Q326.0 206.6 328.4 203.3M349.8 180.1Q356.3 176.8 362.9 180.1M363.0 180.1Q364.7 176.8 366.4 180.1M411.3 203.3Q413.7 206.6 416.1 203.3M430.4 203.3Q436.1 206.6 441.8 203.3M480.5 203.1Q483.9 206.4 487.3 203.1M511.9 203.2Q517.0 206.5 522.2 203.2M550.9 203.3Q555.1 206.6 559.3 203.3M582.4 203.1Q594.0 206.4 605.5 203.1" stroke="#D95319" stroke-width="1.6"/>
<path d="M105.6 181.8V193.8H108.8V181.8M109.0 181.8V153.3H112.2V181.8M112.9 181.8V206.6H116.1V181.8M120.0 181.8V150.6H123.2V181.8M124.6 181.8V163.2H127.8V181.8M127.1 181.8V210.8H130.3V181.8M131.5 181.8V195.7H134.7V181.8M134.4 181.8V153.8H137.6V181.8M137.7 181.8V196.2H141.0V181.8M142.7 181.8V158.0H147.1V181.8M148.4 181.8V206.1H151.6V181.8M152.1 181.8V151.7H155.3V181.8M155.5 181.8V208.9H158.7V181.8M159.2 181.8V155.4H162.4V181.8M162.6 181.8V194.3H165.8V181.8M166.5 181.8V157.4H169.7V181.8M169.9 181.8V199.5H173.1V181.8M173.2 181.8V152.7H176.5V181.8M177.5 181.8V154.3H180.7V181.8M180.3 181.8V210.4H183.6V181.8M184.2 181.8V161.1H187.4V181.8M188.0 181.8V210.4H191.2V181.8M192.2 181.8V194.3H195.4V181.8M202.9 181.8V157.4H206.6V181.8M208.7 181.8V152.2H212.0V181.8M212.1 181.8V189.1H215.3V181.8M216.4 181.8V195.2H219.6V181.8M219.7 181.8V150.6H222.9V181.8M223.1 181.8V210.4H226.3V181.8M229.9 181.8V201.4H233.1V181.8M233.9 181.8V151.2H237.1V181.8M238.2 181.8V167.4H241.4V181.8M240.7 181.8V188.1H243.9V181.8M244.6 181.8V153.8H247.8V181.8M248.3 181.8V158.5H251.5V181.8M252.5 181.8V170.6H255.7V181.8M256.2 181.8V209.9H264.6V181.8M269.4 181.8V206.1H272.6V181.8M272.8 181.8V209.9H276.0V181.8M280.4 181.8V204.2H283.6V181.8M284.6 181.8V199.5H287.9V181.8M285.8 181.8V172.6H289.0V181.8M290.9 181.8V150.6H294.1V181.8M294.3 181.8V203.7H297.5V181.8M299.0 181.8V193.8H302.2V181.8M301.6 181.8V150.6H304.8V181.8M304.9 181.8V188.1H308.1V181.8M308.8 181.8V150.6H312.0V181.8M312.2 181.8V182.4H315.4V181.8M315.9 181.8V150.6H319.1V181.8M320.2 181.8V174.7H323.4V181.8M322.7 181.8V206.6H325.9V181.8M326.9 181.8V198.5H330.1V181.8M330.0 181.8V158.5H333.2V181.8M333.7 181.8V192.8H336.9V181.8M337.1 181.8V152.2H340.3V181.8M340.9 181.8V208.9H344.2V181.8M344.7 181.8V195.2H347.9V181.8M346.4 181.8V171.6H349.6V181.8M352.5 181.8V158.5H357.6V181.8M359.0 181.8V195.2H362.2V181.8M360.7 181.8V152.7H363.9V181.8M365.6 181.8V204.2H368.8V181.8M369.0 181.8V153.3H372.2V181.8M372.9 181.8V203.3H376.1V181.8M380.0 181.8V210.4H383.2V181.8M383.4 181.8V173.2H386.6V181.8M387.1 181.8V198.5H390.3V181.8M389.8 181.8V164.3H393.0V181.8M394.0 181.8V151.2H397.2V181.8M398.2 181.8V169.0H401.5V181.8M401.1 181.8V203.3H404.3V181.8M405.0 181.8V152.7H408.2V181.8M408.7 181.8V210.4H411.9V181.8M412.1 181.8V203.3H415.3V181.8M415.5 181.8V159.0H418.7V181.8M419.2 181.8V208.0H422.4V181.8M422.6 181.8V159.0H425.8V181.8M426.5 181.8V203.3H429.7V181.8M433.2 181.8V201.8H436.5V181.8M437.1 181.8V206.6H440.3V181.8M440.9 181.8V200.4H444.1V181.8M443.9 181.8V165.3H447.1V181.8M447.6 181.8V210.4H450.8V181.8M451.0 181.8V166.4H454.2V181.8M454.7 181.8V208.0H457.9V181.8M459.4 181.8V195.2H462.7V181.8M462.8 181.8V188.1H466.0V181.8M465.4 181.8V156.9H468.6V181.8M468.7 181.8V206.6H472.0V181.8M473.0 181.8V196.6H476.2V181.8M476.4 181.8V152.2H479.6V181.8M480.8 181.8V210.4H485.9V181.8M486.5 181.8V160.6H489.7V181.8M489.9 181.8V200.4H493.1V181.8M494.3 181.8V150.1H497.5V181.8M497.7 181.8V208.5H500.9V181.8M504.5 181.8V169.5H507.7V181.8M510.4 181.8V189.1H513.6V181.8M515.7 181.8V210.4H520.8V181.8M521.4 181.8V158.5H524.6V181.8M525.9 181.8V150.1H529.1V181.8M530.7 181.8V165.3H533.9V181.8M535.4 181.8V161.6H538.6V181.8M540.0 181.8V150.6H543.2V181.8M543.3 181.8V197.6H546.6V181.8M551.2 181.8V210.4H557.3V181.8M560.2 181.8V162.2H563.5V181.8M565.0 181.8V154.8H568.2V181.8M569.5 181.8V169.0H572.8V181.8M572.1 181.8V210.4H575.3V181.8M576.0 181.8V158.0H579.2V181.8M580.4 181.8V209.9H595.7V181.8M600.0 181.8V202.3H603.2V181.8M604.2 181.8V210.4H607.4V181.8M607.6 181.8V165.3H610.8V181.8M611.0 181.8V210.4H614.2V181.8" stroke="#77AC30"/>
</g>
<clipPath id="clipB"><rect x="777.0" y="51.7" width="511.9000000000001" height="260.3"/></clipPath>
<g clip-path="url(#clipB)" fill="none" stroke-linejoin="round" stroke-width="2.7">
<path d="M777.0 181.8H1288.9" stroke="#0072BD" stroke-width="3.4"/>
<path d="M779.6 181.8L780.6 240.1H782.8L784.9 122.2H787.1L788.4 240.1H790.6L795.2 122.2H797.5L799.8 124.0H801.8L802.8 240.1H805.5L809.8 122.2H812.1L812.8 240.1H815.0L819.3 123.1H822.9L827.8 121.6H830.1L831.3 240.1H833.6L834.6 122.2H836.9L839.1 240.1H841.4L842.1 123.1H844.3L846.0 240.1H848.2L850.6 123.1H854.2L856.7 240.1H859.0L859.6 123.5H861.9L863.5 240.1H865.8L866.8 181.8M872.7 181.8L873.7 123.1H876.4L873.8 123.1H882.8L877.0 123.1H879.7L880.3 123.1H883.0L889.9 240.1H892.1L894.8 122.2H897.0L899.6 240.1H901.9L902.6 134.2H904.8L907.8 240.1H909.8L909.5 122.2H911.9L914.6 125.0H916.6L920.3 122.2H922.7L924.4 124.0H926.4L928.3 125.0H930.3L933.1 240.1H935.8L933.1 240.1H939.1L936.4 240.1H939.1L940.1 181.8M949.9 181.8L950.9 240.1H953.1L951.1 240.1H958.2L953.6 240.1H955.7L956.2 240.1H958.4L962.4 137.0H964.4L965.2 122.2H967.6L971.1 240.1H973.4L976.9 122.2H979.2L984.7 122.2H987.0L991.6 122.2H993.8L996.6 149.1H998.6L998.3 235.5H1000.7L1006.4 123.1H1008.3L1009.1 233.7H1011.4L1013.0 122.2H1015.3L1015.9 235.5H1018.3L1020.9 228.1H1023.1L1027.0 122.2H1030.6L1034.5 122.2H1036.8L1041.7 237.4H1043.7L1045.6 122.2H1047.6L1049.5 237.4H1051.5L1055.4 240.1H1057.3L1058.3 181.8M1068.5 181.8L1069.5 122.2H1072.5L1074.9 125.0H1076.9L1077.8 237.4H1079.8L1081.3 122.2H1083.3L1086.1 240.1H1089.1L1091.9 124.0H1093.8L1095.2 240.1H1097.5L1098.9 124.0H1100.9L1105.0 238.3H1107.3L1112.7 242.9H1115.1L1116.1 181.8M1122.5 181.8L1123.5 241.1H1125.9L1127.6 125.0H1129.6L1132.3 240.1H1134.6L1141.2 123.1H1143.3L1142.1 239.2H1144.3L1147.9 237.4H1150.2L1151.8 122.2H1154.2L1158.6 240.1H1161.0L1160.8 237.4H1162.8L1162.5 125.0H1164.9L1166.6 240.1H1168.6L1169.6 122.2H1171.5L1173.5 240.1H1175.5L1178.1 124.0H1180.5L1181.5 181.8M1189.5 181.8L1190.5 240.1H1193.5L1200.0 122.2H1203.6L1204.6 181.8M1210.0 181.8L1211.0 122.2H1214.0L1215.4 122.2H1217.4L1219.3 240.1H1221.3L1227.6 240.1H1230.6L1236.8 122.2H1238.7L1236.8 122.2H1241.0L1239.1 122.2H1241.0L1245.7 125.0H1247.7L1248.6 240.1H1250.6L1251.6 123.1H1253.5L1259.9 240.1H1262.1L1259.9 240.1H1264.7L1262.6 240.1H1264.7L1265.7 181.8M1272.2 181.8L1273.2 240.1H1276.8L1282.6 240.1H1285.0L1284.7 125.0H1286.7L1287.7 181.8" stroke="#D95319" stroke-width="2.4"/>
<path d="M778.2 181.8L779.2 243.2H781.8L783.5 125.3H786.1L787.1 243.2H789.6L793.9 125.3H796.4L798.5 127.1H800.7L801.5 243.2H804.4L808.5 125.3H811.0L811.5 243.2H814.0L817.9 126.2H821.9L822.0 247.1H824.9L826.5 124.8H829.0L830.0 243.2H832.5L833.3 125.3H835.8L837.8 243.2H840.3L840.7 126.2H843.3L844.6 243.2H847.2L849.2 126.2H853.2L855.4 243.2H857.9L858.3 126.5H860.8L862.2 243.2H864.7L865.7 181.8M871.3 181.8L872.3 126.2H875.3L872.1 126.2H882.1L875.6 126.2H878.6L879.0 126.2H881.9L882.9 181.8M887.6 181.8L888.6 243.2H891.1L893.4 125.3H896.0L898.3 243.2H900.8L901.2 136.7H903.8L906.5 243.2H908.7L908.2 125.3H910.9L913.3 128.0H915.5L915.3 215.9H917.5L918.9 125.3H921.6L923.1 127.1H925.3L927.0 128.0H929.2L931.8 243.2H934.7L931.6 243.2H938.2L935.1 243.2H938.1L939.1 181.8M948.6 181.8L949.6 243.2H952.0L949.5 243.2H957.4L952.3 243.2H954.6L954.9 243.2H957.3L961.1 139.4H963.3L963.8 125.3H966.5L969.8 243.2H972.3L975.6 125.3H978.1L979.7 215.9H981.9L983.4 125.3H985.9L990.3 125.3H992.8L995.3 150.8H997.5L997.0 238.3H999.7L1005.1 126.2H1007.3L1007.8 236.4H1010.3L1011.7 125.3H1014.2L1014.6 238.3H1017.2L1019.5 230.5H1022.1L1025.6 125.3H1029.6L1032.2 243.2H1034.8L1033.1 125.3H1035.8L1040.4 240.3H1042.6L1044.3 125.3H1046.5L1048.2 240.3H1050.4L1054.0 243.2H1056.2L1058.5 149.9H1060.7L1061.9 230.5H1064.1L1068.1 125.3H1071.4L1073.6 128.0H1075.8L1076.5 240.3H1078.7L1080.0 125.3H1082.2L1084.7 243.2H1088.0L1090.5 127.1H1092.7L1093.9 243.2H1096.4L1097.6 127.1H1099.8L1103.7 241.3H1106.2L1111.4 246.1H1114.1L1119.0 131.5H1121.2L1122.1 244.2H1124.8L1126.3 128.0H1128.5L1131.0 243.2H1133.5L1134.5 181.8M1138.8 181.8L1139.8 126.2H1142.2L1140.7 242.2H1143.3L1146.6 240.3H1149.1L1150.4 125.3H1153.1L1157.3 243.2H1159.9L1159.5 240.3H1161.7L1161.2 128.0H1163.8L1165.3 243.2H1167.5L1168.3 125.3H1170.5L1172.2 243.2H1174.4L1176.8 127.1H1179.5L1180.5 181.8M1188.2 181.8L1189.2 243.2H1192.5L1193.5 181.8M1197.6 181.8L1198.6 125.3H1202.6L1203.6 181.8M1208.7 181.8L1209.7 125.3H1213.0L1214.1 125.3H1216.3L1218.0 243.2H1220.2L1221.2 181.8M1225.3 181.8L1226.3 243.2H1229.6L1235.5 125.3H1237.6L1235.4 125.3H1240.0L1237.8 125.3H1239.9L1244.4 128.0H1246.6L1247.3 243.2H1249.5L1250.2 126.2H1252.4L1253.4 181.8M1257.6 181.8L1258.6 243.2H1261.0L1258.4 243.2H1263.8L1261.2 243.2H1263.6L1264.6 181.8M1270.8 181.8L1271.8 243.2H1275.8L1281.2 243.2H1283.9L1283.4 128.0H1285.6L1286.6 181.8" stroke="#EDB120"/>
<path d="M778.6 181.8L779.6 243.2H782.2L783.2 181.8M786.5 181.8L787.5 243.2H790.0L791.0 181.8M810.9 181.8L811.9 243.2H814.4L815.4 181.8M829.4 181.8L830.4 243.2H832.9L833.9 181.8M837.2 181.8L838.2 243.2H840.7L841.7 181.8M844.0 181.8L845.0 243.2H847.6L848.6 181.8M854.8 181.8L855.8 243.2H858.3L859.3 181.8M861.6 181.8L862.6 243.2H865.1L866.1 181.8M888.0 181.8L889.0 243.2H891.5L892.5 181.8M897.7 181.8L898.7 243.2H901.2L902.2 181.8M905.9 181.8L906.9 243.2H909.1L910.1 181.8M948.9 181.8L949.9 243.2H957.8L958.8 181.8M969.2 181.8L970.2 243.2H972.7L973.7 181.8M1007.2 181.8L1008.2 236.4H1010.7L1011.7 181.8M1018.9 181.8L1019.9 230.5H1022.5L1023.5 181.8M1047.6 181.8L1048.6 240.3H1050.8L1051.8 181.8M1093.3 181.8L1094.3 243.2H1096.8L1097.8 181.8M1103.1 181.8L1104.1 241.3H1106.6L1107.6 181.8M1121.5 181.8L1122.5 244.2H1125.2L1126.2 181.8M1130.4 181.8L1131.4 243.2H1133.9L1134.9 181.8M1140.1 181.8L1141.1 242.2H1143.7L1144.7 181.8M1146.0 181.8L1147.0 240.3H1149.5L1150.5 181.8M1164.7 181.8L1165.7 243.2H1167.9L1168.9 181.8M1171.6 181.8L1172.6 243.2H1174.8L1175.8 181.8M1188.6 181.8L1189.6 243.2H1192.9L1193.9 181.8M1217.4 181.8L1218.4 243.2H1220.6L1221.6 181.8M1246.7 181.8L1247.7 243.2H1249.9L1250.9 181.8M1257.8 181.8L1258.8 243.2H1264.2L1265.2 181.8M1271.2 181.8L1272.2 243.2H1276.2L1277.2 181.8M1280.6 181.8L1281.6 243.2H1284.3L1285.3 181.8M949.0 181.8L950.0 243.2H952.4L953.4 181.8M951.7 181.8L952.7 243.2H955.0L956.0 181.8M954.3 181.8L955.3 243.2H957.7L958.7 181.8M1258.0 181.8L1259.0 243.2H1261.4L1262.4 181.8M1260.6 181.8L1261.6 243.2H1264.0L1265.0 181.8" stroke="#EDB120"/>
<path d="M821.4 181.8L822.4 247.1H825.3L826.3 181.8M914.7 181.8L915.7 215.9H917.9L918.9 181.8M979.1 181.8L980.1 215.9H982.3L983.3 181.8M1031.6 181.8L1032.6 243.2H1035.2L1036.2 181.8M1061.3 181.8L1062.3 230.5H1064.5L1065.5 181.8" stroke="#D95319"/>
<path d="M800.9 181.8L801.9 243.2H804.8L805.8 181.8M931.0 181.8L932.0 243.2H938.6L939.6 181.8M996.4 181.8L997.4 238.3H1000.1L1001.1 181.8M1014.0 181.8L1015.0 238.3H1017.6L1018.6 181.8M1039.8 181.8L1040.8 240.3H1043.0L1044.0 181.8M1053.4 181.8L1054.4 243.2H1056.6L1057.6 181.8M1075.9 181.8L1076.9 240.3H1079.1L1080.1 181.8M1084.1 181.8L1085.1 243.2H1088.4L1089.4 181.8M1110.8 181.8L1111.8 246.1H1114.5L1115.5 181.8M1156.7 181.8L1157.7 243.2H1160.3L1161.3 181.8M1158.9 181.8L1159.9 240.3H1162.1L1163.1 181.8M1225.7 181.8L1226.7 243.2H1230.0L1231.0 181.8M931.2 181.8L932.2 243.2H935.1L936.1 181.8M934.5 181.8L935.5 243.2H938.5L939.5 181.8" stroke="#7E2F8E"/>
<path d="M800.9 181.8L801.9 237.1H804.8L805.8 181.8M821.4 181.8L822.4 240.6H825.3L826.3 181.8M914.7 181.8L915.7 212.5H917.9L918.9 181.8M931.0 181.8L932.0 237.1H938.6L939.6 181.8M979.1 181.8L980.1 212.5H982.3L983.3 181.8M996.4 181.8L997.4 232.7H1000.1L1001.1 181.8M1014.0 181.8L1015.0 232.7H1017.6L1018.6 181.8M1031.6 181.8L1032.6 237.1H1035.2L1036.2 181.8M1039.8 181.8L1040.8 234.4H1043.0L1044.0 181.8M1053.4 181.8L1054.4 237.1H1056.6L1057.6 181.8M1061.3 181.8L1062.3 225.7H1064.5L1065.5 181.8M1075.9 181.8L1076.9 234.4H1079.1L1080.1 181.8M1084.1 181.8L1085.1 237.1H1088.4L1089.4 181.8M1110.8 181.8L1111.8 239.7H1114.5L1115.5 181.8M1156.7 181.8L1157.7 237.1H1160.3L1161.3 181.8M1158.9 181.8L1159.9 234.4H1162.1L1163.1 181.8M1225.7 181.8L1226.7 237.1H1230.0L1231.0 181.8M931.2 181.8L932.2 237.1H935.1L936.1 181.8M934.5 181.8L935.5 237.1H938.5L939.5 181.8" stroke="#EDB120"/>
<path d="M779.3 181.8L780.3 232.8H782.9L783.9 181.8M787.2 181.8L788.2 232.8H790.7L791.7 181.8M801.6 181.8L802.6 232.8H805.5L806.5 181.8M811.6 181.8L812.6 232.8H815.1L816.1 181.8M830.1 181.8L831.1 232.8H833.6L834.6 181.8M837.9 181.8L838.9 232.8H841.4L842.4 181.8M844.7 181.8L845.7 232.8H848.3L849.3 181.8M855.5 181.8L856.5 232.8H859.0L860.0 181.8M862.3 181.8L863.3 232.8H865.8L866.8 181.8M888.7 181.8L889.7 232.8H892.2L893.2 181.8M898.4 181.8L899.4 232.8H901.9L902.9 181.8M906.6 181.8L907.6 232.8H909.8L910.8 181.8M931.7 181.8L932.7 232.8H939.3L940.3 181.8M949.6 181.8L950.6 232.8H958.5L959.5 181.8M969.9 181.8L970.9 232.8H973.4L974.4 181.8M997.1 181.8L998.1 228.7H1000.8L1001.8 181.8M1007.9 181.8L1008.9 227.1H1011.4L1012.4 181.8M1014.7 181.8L1015.7 228.7H1018.3L1019.3 181.8M1019.6 181.8L1020.6 222.3H1023.2L1024.2 181.8M1040.5 181.8L1041.5 230.4H1043.7L1044.7 181.8M1048.3 181.8L1049.3 230.4H1051.5L1052.5 181.8M1054.1 181.8L1055.1 232.8H1057.3L1058.3 181.8M1076.6 181.8L1077.6 230.4H1079.8L1080.8 181.8M1084.8 181.8L1085.8 232.8H1089.1L1090.1 181.8M1094.0 181.8L1095.0 232.8H1097.5L1098.5 181.8M1103.8 181.8L1104.8 231.2H1107.3L1108.3 181.8M1111.5 181.8L1112.5 235.2H1115.2L1116.2 181.8M1122.2 181.8L1123.2 233.6H1125.9L1126.9 181.8M1131.1 181.8L1132.1 232.8H1134.6L1135.6 181.8M1140.8 181.8L1141.8 232.0H1144.4L1145.4 181.8M1146.7 181.8L1147.7 230.4H1150.2L1151.2 181.8M1157.4 181.8L1158.4 232.8H1161.0L1162.0 181.8M1159.6 181.8L1160.6 230.4H1162.8L1163.8 181.8M1165.4 181.8L1166.4 232.8H1168.6L1169.6 181.8M1172.3 181.8L1173.3 232.8H1175.5L1176.5 181.8M1189.3 181.8L1190.3 232.8H1193.6L1194.6 181.8M1218.1 181.8L1219.1 232.8H1221.3L1222.3 181.8M1226.4 181.8L1227.4 232.8H1230.7L1231.7 181.8M1247.4 181.8L1248.4 232.8H1250.6L1251.6 181.8M1258.5 181.8L1259.5 232.8H1264.9L1265.9 181.8M1271.9 181.8L1272.9 232.8H1276.9L1277.9 181.8M1281.3 181.8L1282.3 232.8H1285.0L1286.0 181.8M931.9 181.8L932.9 232.8H935.8L936.8 181.8M935.2 181.8L936.2 232.8H939.2L940.2 181.8M949.7 181.8L950.7 232.8H953.1L954.1 181.8M952.4 181.8L953.4 232.8H955.7L956.7 181.8M955.0 181.8L956.0 232.8H958.4L959.4 181.8M1258.7 181.8L1259.7 232.8H1262.1L1263.1 181.8M1261.3 181.8L1262.3 232.8H1264.7L1265.7 181.8" stroke="#D95319"/>
<path d="M782.4 181.8L783.4 119.0H786.0L787.0 181.8M792.8 181.8L793.8 119.0H796.3L797.3 181.8M797.4 181.8L798.4 121.0H800.6L801.6 181.8M807.4 181.8L808.4 119.0H810.9L811.9 181.8M816.8 181.8L817.8 120.0H821.8L822.8 181.8M825.4 181.8L826.4 118.5H828.9L829.9 181.8M832.2 181.8L833.2 119.0H835.7L836.7 181.8M839.6 181.8L840.6 120.0H843.2L844.2 181.8M848.1 181.8L849.1 120.0H853.1L854.1 181.8M857.2 181.8L858.2 120.4H860.7L861.7 181.8M871.0 181.8L872.0 120.0H882.0L883.0 181.8M892.3 181.8L893.3 119.0H895.9L896.9 181.8M900.1 181.8L901.1 131.7H903.7L904.7 181.8M907.1 181.8L908.1 119.0H910.8L911.8 181.8M912.2 181.8L913.2 122.0H915.4L916.4 181.8M917.8 181.8L918.8 119.0H921.5L922.5 181.8M922.0 181.8L923.0 121.0H925.2L926.2 181.8M925.9 181.8L926.9 122.0H929.1L930.1 181.8M962.7 181.8L963.7 119.0H966.4L967.4 181.8M960.0 181.8L961.0 134.7H963.2L964.2 181.8M974.5 181.8L975.5 119.0H978.0L979.0 181.8M982.3 181.8L983.3 119.0H985.8L986.8 181.8M989.2 181.8L990.2 119.0H992.7L993.7 181.8M1010.6 181.8L1011.6 119.0H1014.1L1015.1 181.8M1024.5 181.8L1025.5 119.0H1029.5L1030.5 181.8M1032.0 181.8L1033.0 119.0H1035.7L1036.7 181.8M1043.2 181.8L1044.2 119.0H1046.4L1047.4 181.8M1067.0 181.8L1068.0 119.0H1071.3L1072.3 181.8M1078.9 181.8L1079.9 119.0H1082.1L1083.1 181.8M1125.2 181.8L1126.2 122.0H1128.4L1129.4 181.8M1138.7 181.8L1139.7 120.0H1142.1L1143.1 181.8M1149.3 181.8L1150.3 119.0H1153.0L1154.0 181.8M1160.1 181.8L1161.1 122.0H1163.7L1164.7 181.8M1167.2 181.8L1168.2 119.0H1170.4L1171.4 181.8M1175.7 181.8L1176.7 121.0H1179.4L1180.4 181.8M1197.5 181.8L1198.5 119.0H1202.5L1203.5 181.8M1208.6 181.8L1209.6 119.0H1212.9L1213.9 181.8M1213.0 181.8L1214.0 119.0H1216.2L1217.2 181.8M1234.3 181.8L1235.3 119.0H1239.9L1240.9 181.8M1243.3 181.8L1244.3 122.0H1246.5L1247.5 181.8M1249.1 181.8L1250.1 120.0H1252.3L1253.3 181.8M1282.3 181.8L1283.3 122.0H1285.5L1286.5 181.8M871.2 181.8L872.2 120.0H875.2L876.2 181.8M874.5 181.8L875.5 120.0H878.5L879.5 181.8M877.9 181.8L878.9 120.0H881.8L882.8 181.8M1234.4 181.8L1235.4 119.0H1237.5L1238.5 181.8M1236.7 181.8L1237.7 119.0H1239.8L1240.8 181.8" stroke="#7E2F8E"/>
<path d="M994.7 181.8L995.7 147.3H997.9L998.9 181.8M1004.5 181.8L1005.5 120.0H1007.7L1008.7 181.8M1073.0 181.8L1074.0 122.0H1076.2L1077.2 181.8M1089.9 181.8L1090.9 121.0H1093.1L1094.1 181.8M1097.0 181.8L1098.0 121.0H1100.2L1101.2 181.8" stroke="#EDB120"/>
<path d="M1057.9 181.8L1058.9 146.4H1061.1L1062.1 181.8M1118.4 181.8L1119.4 125.9H1121.6L1122.6 181.8" stroke="#D95319"/>
<path d="M783.6 181.8L784.6 131.6H787.2L788.2 181.8M794.0 181.8L795.0 131.6H797.5L798.5 181.8M798.6 181.8L799.6 133.2H801.8L802.8 181.8M808.6 181.8L809.6 131.6H812.1L813.1 181.8M818.0 181.8L819.0 132.4H823.0L824.0 181.8M826.6 181.8L827.6 131.1H830.1L831.1 181.8M833.4 181.8L834.4 131.6H836.9L837.9 181.8M840.8 181.8L841.8 132.4H844.4L845.4 181.8M849.3 181.8L850.3 132.4H854.3L855.3 181.8M858.4 181.8L859.4 132.7H861.9L862.9 181.8M872.2 181.8L873.2 132.4H883.2L884.2 181.8M893.5 181.8L894.5 131.6H897.1L898.1 181.8M901.3 181.8L902.3 141.8H904.9L905.9 181.8M908.3 181.8L909.3 131.6H912.0L913.0 181.8M913.4 181.8L914.4 133.9H916.6L917.6 181.8M919.0 181.8L920.0 131.6H922.7L923.7 181.8M923.2 181.8L924.2 133.2H926.4L927.4 181.8M927.1 181.8L928.1 133.9H930.3L931.3 181.8M963.9 181.8L964.9 131.6H967.6L968.6 181.8M961.2 181.8L962.2 144.1H964.4L965.4 181.8M975.7 181.8L976.7 131.6H979.2L980.2 181.8M983.5 181.8L984.5 131.6H987.0L988.0 181.8M990.4 181.8L991.4 131.6H993.9L994.9 181.8M1011.8 181.8L1012.8 131.6H1015.3L1016.3 181.8M1025.7 181.8L1026.7 131.6H1030.7L1031.7 181.8M1033.2 181.8L1034.2 131.6H1036.9L1037.9 181.8M1044.4 181.8L1045.4 131.6H1047.6L1048.6 181.8M1058.6 181.8L1059.6 153.5H1061.8L1062.8 181.8M1068.2 181.8L1069.2 131.6H1072.5L1073.5 181.8M1080.1 181.8L1081.1 131.6H1083.3L1084.3 181.8M1119.1 181.8L1120.1 137.1H1122.3L1123.3 181.8M1126.4 181.8L1127.4 133.9H1129.6L1130.6 181.8M1139.9 181.8L1140.9 132.4H1143.3L1144.3 181.8M1150.5 181.8L1151.5 131.6H1154.2L1155.2 181.8M1161.3 181.8L1162.3 133.9H1164.9L1165.9 181.8M1168.4 181.8L1169.4 131.6H1171.6L1172.6 181.8M1176.9 181.8L1177.9 133.2H1180.6L1181.6 181.8M1198.7 181.8L1199.7 131.6H1203.7L1204.7 181.8M1209.8 181.8L1210.8 131.6H1214.1L1215.1 181.8M1214.2 181.8L1215.2 131.6H1217.4L1218.4 181.8M1235.5 181.8L1236.5 131.6H1241.1L1242.1 181.8M1244.5 181.8L1245.5 133.9H1247.7L1248.7 181.8M1250.3 181.8L1251.3 132.4H1253.5L1254.5 181.8M1283.5 181.8L1284.5 133.9H1286.7L1287.7 181.8M872.4 181.8L873.4 132.4H876.4L877.4 181.8M875.7 181.8L876.7 132.4H879.7L880.7 181.8M879.1 181.8L880.1 132.4H883.0L884.0 181.8M1235.6 181.8L1236.6 131.6H1238.7L1239.7 181.8M1237.9 181.8L1238.9 131.6H1241.0L1242.0 181.8" stroke="#EDB120"/>
<path d="M779.6 181.8L780.6 212.5H781.4L784.9 139.1H785.7L788.4 212.5H789.2L790.2 181.8M794.3 181.8L795.3 139.1H796.0L797.0 181.8M798.8 181.8L799.8 140.5H800.5L803.0 212.5H803.9L804.9 181.8M808.9 181.8L809.9 139.1H810.7L812.8 212.5H813.6L814.6 181.8M818.8 181.8L819.8 139.8H821.0L823.5 214.5H824.4L827.9 138.7H828.6L831.4 212.5H832.1L834.7 139.1H835.5L839.2 212.5H839.9L842.1 139.8H842.9L846.0 212.5H846.8L851.1 139.8H852.3L856.8 212.5H857.5L859.7 140.1H860.4L863.6 212.5H864.3L865.3 181.8M875.1 181.8L876.1 139.8H879.1L880.1 181.8M888.9 181.8L889.9 212.5H890.7L894.8 139.1H895.6L899.7 212.5H900.5L902.6 147.8H903.4L907.7 212.5H908.4L909.6 139.1H910.4L911.4 181.8M913.6 181.8L914.6 141.1H915.2L916.5 198.9H917.2L920.4 139.1H921.2L922.2 181.8M923.3 181.8L924.3 140.5H925.0L926.0 181.8M927.2 181.8L928.2 141.1H928.9L934.4 212.5H936.4L937.4 181.8M951.8 181.8L952.8 212.5H955.1L956.1 181.8M961.4 181.8L962.4 149.8H963.1L964.1 181.8M964.3 181.8L965.3 139.1H966.1L971.1 212.5H971.9L977.0 139.1H977.7L980.9 198.9H981.6L984.8 139.1H985.6L986.6 181.8M990.6 181.8L991.6 139.1H992.4L993.4 181.8M995.6 181.8L996.6 158.4H997.2L998.4 210.1H999.2L1000.2 181.8M1005.3 181.8L1006.3 139.8H1007.0L1009.2 209.1H1010.0L1013.1 139.1H1013.9L1016.0 210.1H1016.8L1017.8 181.8M1019.9 181.8L1020.9 206.2H1021.7L1027.5 139.1H1028.7L1033.6 212.5H1034.4L1034.6 139.1H1035.4L1036.4 181.8M1040.6 181.8L1041.6 211.1H1042.3L1045.6 139.1H1046.2L1049.5 211.1H1050.1L1051.1 181.8M1054.3 181.8L1055.3 212.5H1056.0L1059.8 157.7H1060.5L1063.1 206.2H1063.8L1064.8 181.8M1068.8 181.8L1069.8 139.1H1070.8L1071.8 181.8M1073.8 181.8L1074.8 141.1H1075.5L1077.8 211.1H1078.4L1081.3 139.1H1081.9L1086.4 212.5H1087.4L1091.8 140.5H1092.5L1095.3 212.5H1096.0L1098.8 140.5H1099.5L1105.0 211.6H1105.8L1106.8 181.8M1111.8 181.8L1112.8 214.0H1113.6L1114.6 181.8M1119.3 181.8L1120.3 143.8H1121.0L1123.6 213.0H1124.4L1127.5 141.1H1128.2L1132.4 212.5H1133.1L1134.1 181.8M1140.2 181.8L1141.2 139.8H1141.9L1142.1 212.0H1142.9L1143.9 181.8M1147.0 181.8L1148.0 211.1H1148.7L1151.9 139.1H1152.7L1153.7 181.8M1157.7 181.8L1158.7 212.5H1159.5L1160.5 181.8M1159.7 181.8L1160.7 211.1H1161.4L1162.6 141.1H1163.4L1166.6 212.5H1167.3L1169.5 139.1H1170.2L1173.4 212.5H1174.1L1178.2 140.5H1179.0L1180.0 181.8M1189.8 181.8L1190.8 212.5H1191.8L1192.8 181.8M1199.5 181.8L1200.5 139.1H1201.7L1202.7 181.8M1210.3 181.8L1211.3 139.1H1212.3L1213.3 181.8M1214.4 181.8L1215.4 139.1H1216.1L1219.3 212.5H1220.0L1221.0 181.8M1226.9 181.8L1227.9 212.5H1228.9L1229.9 181.8M1236.5 181.8L1237.5 139.1H1238.9L1239.9 181.8M1244.7 181.8L1245.7 141.1H1246.3L1248.6 212.5H1249.2L1251.5 139.8H1252.2L1253.2 181.8M1259.8 181.8L1260.8 212.5H1262.4L1263.4 181.8M1272.7 181.8L1273.7 212.5H1274.9L1275.9 181.8M1281.7 181.8L1282.7 212.5H1283.5L1284.7 141.1H1285.4L1286.4 181.8" stroke="#77AC30" stroke-width="2.2"/>
<path d="M872.5 181.8L873.5 129.3H875.0L876.0 181.8M879.1 181.8L880.1 129.3H881.6L882.6 181.8M935.2 181.8L936.2 234.0H937.7L938.7 181.8M952.3 181.8L953.3 234.0H954.4L955.4 181.8M1235.4 181.8L1236.4 128.5H1237.4L1238.4 181.8M1258.6 181.8L1259.6 234.0H1260.8L1261.8 181.8" stroke="#A2142F" stroke-width="1.6"/>
<path d="M875.8 181.8L876.8 138.6H878.3L879.3 181.8M931.9 181.8L932.9 224.8H934.4L935.4 181.8M949.6 181.8L950.6 224.8H951.8L952.8 181.8M954.9 181.8L955.9 224.8H957.1L958.1 181.8M1237.7 181.8L1238.7 137.9H1239.8L1240.8 181.8M1261.2 181.8L1262.2 224.8H1263.4L1264.4 181.8" stroke="#D95319" stroke-width="1.6"/>
<path d="M872.5 181.8L873.5 160.2H875.0L876.0 181.8M879.1 181.8L880.1 160.2H881.6L882.6 181.8M935.2 181.8L936.2 203.3H937.7L938.7 181.8M952.3 181.8L953.3 203.3H954.4L955.4 181.8M1235.4 181.8L1236.4 159.9H1237.4L1238.4 181.8M1258.6 181.8L1259.6 203.3H1260.8L1261.8 181.8" stroke="#4DBEEE" stroke-width="1.4"/>
<path d="M876.2 181.8L877.2 144.7H877.8L878.8 181.8M932.3 181.8L933.3 218.7H933.9L934.9 181.8M950.0 181.8L951.0 218.7H951.4L952.4 181.8M955.3 181.8L956.3 218.7H956.7L957.7 181.8M1238.0 181.8L1239.0 144.2H1239.4L1240.4 181.8M1261.6 181.8L1262.6 218.7H1263.1L1264.1 181.8" stroke="#77AC30" stroke-width="1.8"/>
<path d="M777.0 181.8H1288.9" stroke="#77AC30" stroke-width="3"/>
</g>
<clipPath id="clipC"><rect x="103.0" y="428.5" width="511.6" height="261.0"/></clipPath>
<g clip-path="url(#clipC)" fill="none" stroke-linejoin="round" stroke-linecap="round">
<path d="M102.9 547.4L107.6 545.7L108.8 559.0M112.7 559.0L113.5 541.5L116.4 541.5L116.9 559.0M138.0 559.0L138.9 543.1L141.4 543.1L142.3 559.0M147.9 559.0L148.7 544.8L151.6 544.8L152.4 559.0M155.0 559.0L155.8 539.8L158.8 539.8L159.5 559.0M162.2 559.0L163.1 546.5L165.9 546.5L166.8 559.0M169.3 559.0L170.2 546.5L173.2 546.5L174.1 559.0M179.5 559.0L180.3 534.7L183.7 534.7L184.5 559.0M223.4 559.0L224.3 534.7L226.8 534.7L227.7 559.0M230.5 559.0L231.4 546.5L234.1 546.5L234.9 559.0M240.7 559.0L241.5 547.4L244.6 547.4L245.4 559.0M127.9 559.0L128.7 526.2L131.3 527.9L132.1 546.5L133.0 559.0M188.8 559.0L189.6 533.8L191.3 534.7L192.2 547.4L193.0 559.0M212.4 559.0L213.3 547.4L219.2 547.4L220.1 559.0M256.9 559.0L258.1 525.4L263.2 525.4L264.9 532.2L266.6 548.2L270.8 544.8L273.3 538.1L275.9 538.1L277.2 559.0" stroke="#77AC30" stroke-width="2.3"/>
<path d="M102.9 527.1L107.6 526.2L108.8 559.0M127.9 559.0L128.7 498.3L131.3 498.3L132.1 526.2L133.0 559.0M187.9 559.0L188.8 510.2L191.3 511.0L192.2 527.1L193.0 559.0M211.6 559.0L212.4 527.1L219.2 527.1L220.1 559.0M256.4 559.0L257.3 498.3L262.3 498.3L263.2 504.3L265.7 504.3L266.6 527.9L269.1 527.9L270.8 519.5L274.2 514.4L276.7 541.5L280.1 541.5L281.8 544.0L284.3 559.0M113.5 559.0L114.4 551.6L116.9 553.3L117.8 559.0" stroke="#4DBEEE" stroke-width="2.3"/>
<path d="M258.1 559.0L258.9 532.2L263.2 532.2L264.0 559.0M258.1 553.3L263.2 553.3" stroke="#7E2F8E" stroke-width="2.2"/>
<path d="M102.9 498.3L108.5 498.3L109.3 559.0L112.7 559.0L113.5 490.7L116.4 490.7L116.9 552.4L120.0 552.4L120.6 559.0L126.2 559.0L127.1 474.7L130.4 474.7L131.3 497.5L133.8 497.5L134.7 559.0L137.5 559.0L138.4 497.5L141.4 497.5L142.3 559.0L147.3 559.0L148.2 490.7L151.9 490.7L152.4 559.0L154.4 559.0L155.3 485.7L158.8 485.7L159.5 559.0L161.7 559.0L162.6 497.5L165.9 497.5L166.8 559.0L169.0 559.0L169.8 496.6L173.2 496.6L174.1 559.0L179.1 559.0L180.0 482.3L183.7 482.3L184.5 559.0L186.6 559.0L187.4 484.3L191.3 484.3L192.2 497.5L194.4 497.5L195.0 559.0L199.8 559.0L201.5 559.0L211.3 559.0L211.9 498.3L215.8 498.3L216.7 497.5L219.2 497.5L220.1 559.0L222.6 559.0L223.4 479.2L226.8 479.2L227.7 559.0L229.9 559.0L230.7 495.8L234.1 495.8L234.9 559.0L240.0 559.0L240.9 498.3L244.6 498.3L245.4 559.0L254.2 559.0L255.1 479.7L258.1 479.7L258.9 473.0L262.3 473.0L263.2 478.9L265.7 478.9L266.6 499.2L268.8 499.2L269.1 494.1L271.6 494.1L272.5 487.3L275.0 487.3L276.7 512.7L280.1 512.7L280.9 514.4L283.5 533.0L286.0 538.1L287.7 559.0L292.8 559.0L294.5 542.3L297.0 559.0M256.4 559.0L257.3 516.1L259.8 514.4L262.3 516.1L263.2 524.5L264.9 559.0" stroke="#A2142F" stroke-width="2.3"/>
<path d="M455.0 559.0L455.8 538.1L458.3 538.1L460.0 546.5L464.3 548.2L465.1 559.0M469.3 559.0L470.2 541.5L472.7 541.5L474.4 548.2L475.2 559.0M480.8 559.0L481.5 533.0L483.7 526.2L485.4 526.2L486.2 559.0M509.1 559.0L509.9 548.2L513.3 548.2L515.0 535.5L519.2 535.5L520.1 544.0L520.9 559.0M544.6 559.0L545.4 546.5L549.6 548.2L551.3 534.7L553.0 529.6L556.4 529.6L557.3 559.0M580.1 559.0L580.9 536.4L584.3 529.6L587.7 527.1L591.1 529.6L594.5 541.5L597.8 547.4L602.1 544.8L604.6 535.5L606.3 559.0M583.5 559.0L584.3 551.6L587.7 549.1L591.1 551.6L591.9 559.0M612.2 534.7L614.7 531.3" stroke="#77AC30" stroke-width="2.3"/>
<path d="M455.8 559.0L456.6 515.2L459.2 515.2L460.0 527.1L463.4 527.1L464.3 559.0M469.3 559.0L470.2 517.8L472.7 517.8L473.6 527.1L475.2 559.0M480.8 559.0L481.5 507.6L482.9 500.0L484.5 500.0L485.4 559.0M509.1 559.0L509.9 527.9L515.0 527.9L515.8 511.0L519.2 511.0L520.1 522.9L520.9 559.0M545.4 559.0L546.3 527.9L549.6 527.9L550.5 509.3L553.0 509.3L553.9 503.4L556.4 503.4L557.3 559.0M580.1 559.0L580.9 511.0L584.3 505.9L586.0 500.0L589.4 500.0L592.8 511.0L596.1 516.9L597.8 526.2L601.2 526.2L602.9 521.2L604.6 510.2L606.3 559.0M582.6 559.0L583.5 541.5L592.8 541.5L593.6 559.0M611.4 559.0L612.2 507.6L614.7 507.6M551.3 559.0L553.0 546.5L555.6 546.5L557.3 559.0M448.2 559.0L449.0 524.5L449.9 559.0" stroke="#4DBEEE" stroke-width="2.3"/>
<path d="M481.2 536.4L483.7 536.4M583.5 533.0L591.9 533.0M585.2 559.0L590.2 559.0M552.2 536.4L554.7 536.4M517.5 544.8L520.1 544.8M612.2 536.4L614.7 536.4" stroke="#7E2F8E" stroke-width="2.2"/>
<path d="M446.5 559.0L447.3 511.0L450.7 494.1L451.6 559.0L453.8 559.0L454.4 489.0L458.3 489.0L458.8 498.3L465.1 498.3L465.9 559.0L468.0 559.0L468.8 490.4L472.4 490.4L473.0 497.5L475.2 497.5L475.8 559.0L478.6 559.0L479.5 482.3L482.9 482.3L483.4 475.5L486.6 475.5L487.1 559.0L489.1 559.0L490.0 495.8L493.5 495.8L494.0 559.0L496.7 559.0L497.6 487.3L501.1 487.3L501.8 559.0L506.9 559.0L507.7 499.2L514.1 499.2L515.0 484.8L518.4 484.8L519.2 494.1L522.1 494.1L522.9 559.0L542.4 559.0L543.2 497.5L548.8 497.5L549.6 482.3L554.2 482.3L554.7 478.0L557.6 478.0L558.3 553.3L560.6 553.3L561.5 559.0L570.8 559.0L571.6 476.4L575.5 476.4L576.2 559.0L578.4 559.0L579.2 484.8L582.6 484.8L583.1 479.7L586.0 479.7L586.8 475.5L590.2 475.5L591.1 479.7L594.1 479.7L594.5 489.9L596.7 489.9L597.3 497.5L599.5 497.5L600.4 495.0L602.4 495.0L602.9 559.0L603.4 559.0L604.3 484.0L607.6 484.0L608.3 559.0L610.5 559.0L611.4 480.6L615.6 480.6M467.6 559.0L468.5 550.8L472.7 550.8L473.6 559.0M481.2 559.0L482.0 517.8L486.2 517.8L486.6 559.0M514.1 559.0L515.0 533.8L519.2 533.8L519.7 559.0M549.6 559.0L550.5 528.8L553.0 522.9L555.6 522.9L556.4 559.0M580.9 559.0L581.8 524.5L584.3 518.6L591.1 518.6L592.8 524.5L597.0 549.1L597.8 559.0M602.9 559.0L603.8 533.0L605.4 533.0L606.3 559.0" stroke="#A2142F" stroke-width="2.3"/>
<path d="M103.0 559.0H614.6" stroke="#77AC30" stroke-width="2.6"/>
</g>
<clipPath id="clipD"><rect x="777.0" y="428.5" width="511.9000000000001" height="261.0"/></clipPath>
<g clip-path="url(#clipD)" fill="none" stroke-linejoin="round" stroke-linecap="round">
<path d="M932.9 559.0L934.6 543.1L936.7 543.1L938.4 559.0M801.9 559.0L803.1 544.8L804.4 559.0M802.7 559.0L803.8 548.2L804.8 559.0" stroke="#4DBEEE" stroke-width="2.5"/>
<path d="M1263.3 559.0L1264.4 585.7L1266.1 564.9L1267.5 559.0M1188.4 559.0L1189.5 553.4L1190.7 559.0M1220.7 559.0L1221.9 553.4L1223.6 559.0M1256.1 559.0L1257.3 555.5L1258.6 559.0" stroke="#4DBEEE" stroke-width="2.5"/>
<path d="M775.7 544.1L778.6 498.8L779.7 499.3L780.6 559.0L781.2 516.5L782.6 516.5L783.4 559.0L783.7 525.9L784.5 526.4L785.1 559.0L785.9 559.0L787.3 516.5L789.5 496.0L790.8 496.6L791.7 559.0L794.5 559.0L795.3 536.4L796.1 559.0L800.3 559.0L801.4 492.2L803.3 490.5L804.4 490.5L805.0 496.6L808.3 497.1L809.4 499.9L811.0 559.0L811.6 551.9L812.7 507.6L814.4 496.6L815.5 497.1L817.1 559.0L821.5 559.0L822.1 534.2L823.2 485.0L824.3 485.0L825.1 494.4L826.0 495.5L826.8 559.0L828.7 559.0L829.8 516.5L830.4 512.1L831.5 511.0L832.6 503.8L833.7 503.8L834.8 559.0L835.9 559.0L837.9 503.8L839.2 503.8L840.3 524.2L841.7 559.0L843.7 559.0L844.2 526.4L845.6 518.1L846.4 518.1L847.5 522.0L848.6 559.0L853.6 559.0L854.5 508.2L855.8 507.6L856.9 494.4L858.2 494.4L859.7 559.0L861.3 559.0L863.0 494.9L864.7 494.4L866.3 496.6L868.5 497.7L870.4 559.0L884.0 559.0M803.0 559.0L803.3 502.1L803.9 545.2L805.2 559.0" stroke="#A2142F" stroke-width="2.3"/>
<path d="" stroke="#A2142F" stroke-width="1.38"/>
<path d="M885.5 559.0L888.5 499.3L890.3 498.6L891.5 559.0L892.7 502.3L894.2 502.3L895.2 559.0L896.7 559.0L898.6 493.3L900.1 491.9L901.9 559.0L904.9 527.7L907.2 497.8L908.2 497.8L909.4 559.0L914.6 559.0L917.6 495.6L919.1 495.6L920.2 559.0L928.8 559.0L929.6 485.9L931.1 485.9L932.1 493.3L933.3 487.4L934.5 461.2L935.6 461.2L936.3 485.9L937.8 491.9L939.6 491.9L940.8 499.3L941.5 490.4L942.6 524.7L943.5 494.8L945.3 500.8L946.8 493.3L948.6 491.9L950.5 494.8L953.5 553.1L955.0 545.7L956.5 547.2L957.5 559.0L961.7 559.0L962.5 543.4L963.2 559.0L979.4 559.0L980.0 549.4L980.9 559.0L988.6 559.0L989.4 559.0L990.4 559.0L991.3 559.0L992.2 559.0M928.8 559.0L930.3 540.4L931.8 559.0M935.6 559.0L937.1 542.7L938.6 544.2L940.5 559.0" stroke="#A2142F" stroke-width="2.3"/>
<path d="" stroke="#A2142F" stroke-width="1.38"/>
<path d="M990.0 559.0L990.8 565.1L992.0 559.0L995.1 559.0L995.9 568.5L997.1 559.0L1004.9 559.0L1005.7 539.8L1006.6 559.0L1018.7 559.0L1019.6 538.1L1020.4 559.0L1033.6 559.0L1034.8 556.3L1036.0 559.0L1060.7 559.0L1061.9 556.3L1063.0 559.0L1067.3 559.0L1068.1 573.6L1069.0 559.0L1075.1 559.0L1075.9 545.7L1076.7 559.0L1099.6 559.0L1100.8 555.0L1101.9 559.0L1121.0 559.0L1121.9 543.1L1123.6 555.0L1124.9 512.7L1126.6 559.0L1128.7 516.9L1131.2 495.8L1136.3 497.5L1137.1 559.0L1138.8 501.7L1141.3 559.0L1144.7 495.8L1149.8 497.5L1152.3 559.0L1154.9 494.1L1157.4 491.6L1159.9 485.7L1161.6 559.0L1164.2 519.5L1166.7 496.6L1168.9 559.0L1171.8 517.8L1174.3 495.0L1176.0 559.0L1182.8 559.0L1186.1 498.3L1188.7 495.8L1189.5 485.7L1191.2 494.1L1196.3 495.8L1198.0 559.0" stroke="#A2142F" stroke-width="2.3"/>
<path d="M991.4 559.0L992.2 564.9L993.4 559.0L996.5 559.0L997.3 568.1L998.5 559.0L1006.3 559.0L1007.1 540.5L1008.0 559.0L1020.1 559.0L1021.0 538.9L1021.8 559.0L1035.0 559.0L1036.2 556.4L1037.4 559.0L1062.1 559.0L1063.3 556.4L1064.4 559.0L1068.7 559.0L1069.5 573.0L1070.4 559.0L1076.5 559.0L1077.3 546.2L1078.1 559.0L1101.0 559.0L1102.2 555.1L1103.3 559.0L1122.4 559.0L1123.3 543.8L1125.0 555.1L1126.3 514.6L1128.0 559.0L1130.1 518.6L1132.6 498.3L1137.7 500.0L1138.5 559.0L1140.2 504.0L1142.7 559.0L1146.1 498.3L1151.2 500.0L1153.7 559.0L1156.3 496.7L1158.8 494.3L1161.3 488.6L1163.0 559.0L1165.6 521.1L1168.1 499.1L1170.3 559.0L1173.2 519.4L1175.7 497.5L1177.4 559.0L1184.2 559.0L1187.5 500.8L1190.1 498.3L1190.9 488.6L1192.6 496.7L1197.7 498.3L1199.4 559.0" stroke="#A2142F" stroke-width="1.38"/>
<path d="M1199.9 559.0L1202.4 550.3L1204.0 559.0L1217.6 559.0L1218.6 512.8L1220.7 517.0L1221.7 489.9L1223.8 494.1L1225.9 488.9L1229.0 492.0L1231.1 494.1L1233.2 559.0L1244.6 559.0L1246.7 491.0L1249.8 493.1L1251.9 559.0L1253.6 519.1L1256.1 492.0L1258.1 488.9L1262.3 489.9L1264.4 559.0L1266.5 491.0L1268.5 494.1L1270.6 559.0L1272.3 495.2L1274.8 502.4L1277.9 493.1L1280.0 523.2L1281.0 494.1L1283.1 559.0L1285.2 495.2L1287.3 493.1L1289.4 494.1" stroke="#A2142F" stroke-width="2.3"/>
<path d="M1201.3 559.0L1203.8 550.6L1205.4 559.0L1219.0 559.0L1220.0 514.7L1222.1 518.7L1223.1 492.7L1225.2 496.7L1227.3 491.7L1230.4 494.7L1232.5 496.7L1234.6 559.0L1246.0 559.0L1248.1 493.7L1251.2 495.7L1253.3 559.0L1255.0 520.7L1257.5 494.7L1259.5 491.7L1263.7 492.7L1265.8 559.0L1267.9 493.7L1269.9 496.7L1272.0 559.0L1273.7 497.7L1276.2 504.7L1279.3 495.7L1281.4 524.7L1282.4 496.7L1284.5 559.0L1286.6 497.7L1288.7 495.7L1290.8 496.7" stroke="#A2142F" stroke-width="1.38"/>
<path d="M777.0 559.0H1288.9" stroke="#77AC30" stroke-width="2.6"/>
</g>
<path d="M102.90 51.70H614.60V311.80H102.90Z" fill="none" stroke="#6e6e6e" stroke-width="1.4"/>
<path d="M188.18 311.80v-4.5M188.18 51.70v4.5M273.47 311.80v-4.5M273.47 51.70v4.5M358.75 311.80v-4.5M358.75 51.70v4.5M444.03 311.80v-4.5M444.03 51.70v4.5M529.32 311.80v-4.5M529.32 51.70v4.5M102.90 116.73h4.5M614.60 116.73h-4.5M102.90 181.75h4.5M614.60 181.75h-4.5M102.90 246.78h4.5M614.60 246.78h-4.5" stroke="#333" stroke-width="1.1" fill="none"/>
<text x="102.90" y="345.70" text-anchor="middle" font-size="26.6">0</text>
<text x="188.18" y="345.70" text-anchor="middle" font-size="26.6">4</text>
<text x="273.47" y="345.70" text-anchor="middle" font-size="26.6">8</text>
<text x="358.75" y="345.70" text-anchor="middle" font-size="26.6">12</text>
<text x="444.03" y="345.70" text-anchor="middle" font-size="26.6">16</text>
<text x="529.32" y="345.70" text-anchor="middle" font-size="26.6">20</text>
<text x="614.60" y="345.70" text-anchor="middle" font-size="26.6">24</text>
<text x="93.90" y="62.00" text-anchor="end" font-size="26.6">0.2</text>
<text x="93.90" y="127.03" text-anchor="end" font-size="26.6">0.1</text>
<text x="93.90" y="192.05" text-anchor="end" font-size="26.6">0</text>
<text x="93.90" y="257.08" text-anchor="end" font-size="26.6">-0.1</text>
<text x="93.90" y="322.10" text-anchor="end" font-size="26.6">-0.2</text>
<text x="358.75" y="383.60" text-anchor="middle" font-size="29.0">Time(h)</text>
<text transform="translate(38.70 181.75) rotate(-90)" text-anchor="middle" font-size="28.6">P (p.u.) - Centralized</text>
<text transform="translate(6.40 32.50) scale(1.0 1)" font-size="44" font-weight="bold" style="fill:#000">A</text>
<path d="M777.00 51.70H1288.90V312.00H777.00Z" fill="none" stroke="#6e6e6e" stroke-width="1.4"/>
<path d="M862.32 312.00v-4.5M862.32 51.70v4.5M947.63 312.00v-4.5M947.63 51.70v4.5M1032.95 312.00v-4.5M1032.95 51.70v4.5M1118.27 312.00v-4.5M1118.27 51.70v4.5M1203.58 312.00v-4.5M1203.58 51.70v4.5M777.00 116.78h4.5M1288.90 116.78h-4.5M777.00 181.85h4.5M1288.90 181.85h-4.5M777.00 246.93h4.5M1288.90 246.93h-4.5" stroke="#333" stroke-width="1.1" fill="none"/>
<text x="777.00" y="345.90" text-anchor="middle" font-size="26.6">0</text>
<text x="862.32" y="345.90" text-anchor="middle" font-size="26.6">4</text>
<text x="947.63" y="345.90" text-anchor="middle" font-size="26.6">8</text>
<text x="1032.95" y="345.90" text-anchor="middle" font-size="26.6">12</text>
<text x="1118.27" y="345.90" text-anchor="middle" font-size="26.6">16</text>
<text x="1203.58" y="345.90" text-anchor="middle" font-size="26.6">20</text>
<text x="1288.90" y="345.90" text-anchor="middle" font-size="26.6">24</text>
<text x="768.00" y="62.00" text-anchor="end" font-size="26.6">0.2</text>
<text x="768.00" y="127.08" text-anchor="end" font-size="26.6">0.1</text>
<text x="768.00" y="192.15" text-anchor="end" font-size="26.6">0</text>
<text x="768.00" y="257.23" text-anchor="end" font-size="26.6">-0.1</text>
<text x="768.00" y="322.30" text-anchor="end" font-size="26.6">-0.2</text>
<text x="1032.95" y="383.80" text-anchor="middle" font-size="29.0">Time(h)</text>
<text transform="translate(712.80 181.85) rotate(-90)" text-anchor="middle" font-size="28.6">P (p.u.) - Distributed</text>
<text transform="translate(672.00 32.50) scale(0.96 1)" font-size="44" font-weight="bold" style="fill:#000">B</text>
<path d="M103.00 428.50H614.60V689.50H103.00Z" fill="none" stroke="#6e6e6e" stroke-width="1.4"/>
<path d="M188.27 689.50v-4.5M188.27 428.50v4.5M273.53 689.50v-4.5M273.53 428.50v4.5M358.80 689.50v-4.5M358.80 428.50v4.5M444.07 689.50v-4.5M444.07 428.50v4.5M529.33 689.50v-4.5M529.33 428.50v4.5M103.00 493.75h4.5M614.60 493.75h-4.5M103.00 559.00h4.5M614.60 559.00h-4.5M103.00 624.25h4.5M614.60 624.25h-4.5" stroke="#333" stroke-width="1.1" fill="none"/>
<text x="103.00" y="723.40" text-anchor="middle" font-size="26.6">0</text>
<text x="188.27" y="723.40" text-anchor="middle" font-size="26.6">4</text>
<text x="273.53" y="723.40" text-anchor="middle" font-size="26.6">8</text>
<text x="358.80" y="723.40" text-anchor="middle" font-size="26.6">12</text>
<text x="444.07" y="723.40" text-anchor="middle" font-size="26.6">16</text>
<text x="529.33" y="723.40" text-anchor="middle" font-size="26.6">20</text>
<text x="614.60" y="723.40" text-anchor="middle" font-size="26.6">24</text>
<text x="94.00" y="438.80" text-anchor="end" font-size="26.6">0.1</text>
<text x="94.00" y="504.05" text-anchor="end" font-size="26.6">0.05</text>
<text x="94.00" y="569.30" text-anchor="end" font-size="26.6">0</text>
<text x="94.00" y="634.55" text-anchor="end" font-size="26.6">-0.05</text>
<text x="94.00" y="699.80" text-anchor="end" font-size="26.6">-0.1</text>
<text x="358.80" y="761.30" text-anchor="middle" font-size="29.0">Time(h)</text>
<text transform="translate(24.80 559.00) rotate(-90)" text-anchor="middle" font-size="28.6">Q (p.u.) - Centralized</text>
<text transform="translate(7.70 400.00) scale(0.88 1)" font-size="44" font-weight="bold" style="fill:#000">C</text>
<path d="M777.00 428.50H1288.90V689.50H777.00Z" fill="none" stroke="#6e6e6e" stroke-width="1.4"/>
<path d="M862.32 689.50v-4.5M862.32 428.50v4.5M947.63 689.50v-4.5M947.63 428.50v4.5M1032.95 689.50v-4.5M1032.95 428.50v4.5M1118.27 689.50v-4.5M1118.27 428.50v4.5M1203.58 689.50v-4.5M1203.58 428.50v4.5M777.00 493.75h4.5M1288.90 493.75h-4.5M777.00 559.00h4.5M1288.90 559.00h-4.5M777.00 624.25h4.5M1288.90 624.25h-4.5" stroke="#333" stroke-width="1.1" fill="none"/>
<text x="777.00" y="723.40" text-anchor="middle" font-size="26.6">0</text>
<text x="862.32" y="723.40" text-anchor="middle" font-size="26.6">4</text>
<text x="947.63" y="723.40" text-anchor="middle" font-size="26.6">8</text>
<text x="1032.95" y="723.40" text-anchor="middle" font-size="26.6">12</text>
<text x="1118.27" y="723.40" text-anchor="middle" font-size="26.6">16</text>
<text x="1203.58" y="723.40" text-anchor="middle" font-size="26.6">20</text>
<text x="1288.90" y="723.40" text-anchor="middle" font-size="26.6">24</text>
<text x="768.00" y="438.80" text-anchor="end" font-size="26.6">0.1</text>
<text x="768.00" y="504.05" text-anchor="end" font-size="26.6">0.05</text>
<text x="768.00" y="569.30" text-anchor="end" font-size="26.6">0</text>
<text x="768.00" y="634.55" text-anchor="end" font-size="26.6">-0.05</text>
<text x="768.00" y="699.80" text-anchor="end" font-size="26.6">-0.1</text>
<text x="1032.95" y="761.30" text-anchor="middle" font-size="29.0">Time(h)</text>
<text transform="translate(698.80 559.00) rotate(-90)" text-anchor="middle" font-size="28.6">Q (p.u.) - Distributed</text>
<text transform="translate(672.00 399.50) scale(0.96 1)" font-size="44" font-weight="bold" style="fill:#000">D</text>
</svg></body></html>
